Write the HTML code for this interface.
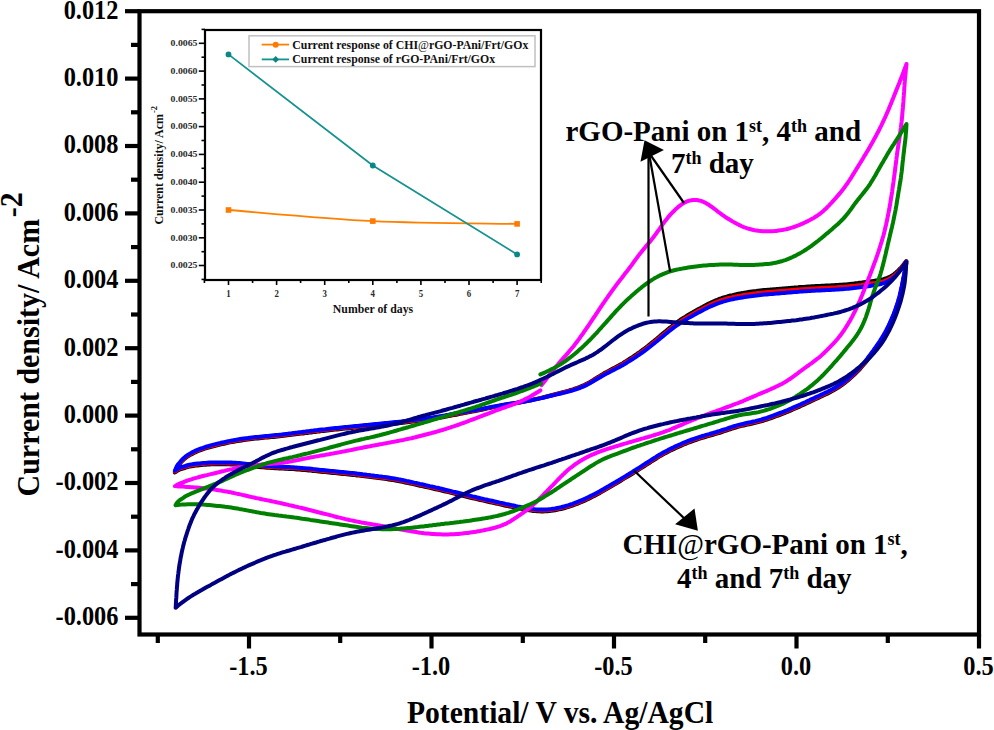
<!DOCTYPE html>
<html><head><meta charset="utf-8"><style>
html,body{margin:0;padding:0;background:#fff;}
svg{display:block;}
text{font-family:"Liberation Serif",serif;font-weight:bold;fill:#000;}
.tl{font-size:24.4px;}
.ax{font-size:29.6px;}
.axs{font-size:20px;}
.ann{font-size:29px;}
.sup{font-size:18px;}
.itl{font-size:9.8px;fill:#2a2a2a;}
.ileg{font-size:11.8px;fill:#111;}
</style></head><body>
<svg width="994" height="730" viewBox="0 0 994 730">
<rect width="994" height="730" fill="#fff"/>
<line x1="125" y1="617.8" x2="139.5" y2="617.8" stroke="#000" stroke-width="4.2"/>
<line x1="125" y1="550.4" x2="139.5" y2="550.4" stroke="#000" stroke-width="4.2"/>
<line x1="125" y1="483.0" x2="139.5" y2="483.0" stroke="#000" stroke-width="4.2"/>
<line x1="125" y1="415.6" x2="139.5" y2="415.6" stroke="#000" stroke-width="4.2"/>
<line x1="125" y1="348.2" x2="139.5" y2="348.2" stroke="#000" stroke-width="4.2"/>
<line x1="125" y1="280.8" x2="139.5" y2="280.8" stroke="#000" stroke-width="4.2"/>
<line x1="125" y1="213.4" x2="139.5" y2="213.4" stroke="#000" stroke-width="4.2"/>
<line x1="125" y1="146.0" x2="139.5" y2="146.0" stroke="#000" stroke-width="4.2"/>
<line x1="125" y1="78.6" x2="139.5" y2="78.6" stroke="#000" stroke-width="4.2"/>
<line x1="125" y1="11.2" x2="139.5" y2="11.2" stroke="#000" stroke-width="4.2"/>
<line x1="131" y1="584.1" x2="139.5" y2="584.1" stroke="#000" stroke-width="4.2"/>
<line x1="131" y1="516.7" x2="139.5" y2="516.7" stroke="#000" stroke-width="4.2"/>
<line x1="131" y1="449.3" x2="139.5" y2="449.3" stroke="#000" stroke-width="4.2"/>
<line x1="131" y1="381.9" x2="139.5" y2="381.9" stroke="#000" stroke-width="4.2"/>
<line x1="131" y1="314.5" x2="139.5" y2="314.5" stroke="#000" stroke-width="4.2"/>
<line x1="131" y1="247.1" x2="139.5" y2="247.1" stroke="#000" stroke-width="4.2"/>
<line x1="131" y1="179.7" x2="139.5" y2="179.7" stroke="#000" stroke-width="4.2"/>
<line x1="131" y1="112.3" x2="139.5" y2="112.3" stroke="#000" stroke-width="4.2"/>
<line x1="131" y1="44.9" x2="139.5" y2="44.9" stroke="#000" stroke-width="4.2"/>
<text transform="translate(118.5,625.2) scale(1,1.1)" class="tl" text-anchor="end">-0.006</text>
<text transform="translate(118.5,557.8) scale(1,1.1)" class="tl" text-anchor="end">-0.004</text>
<text transform="translate(118.5,490.4) scale(1,1.1)" class="tl" text-anchor="end">-0.002</text>
<text transform="translate(118.5,423.0) scale(1,1.1)" class="tl" text-anchor="end">0.000</text>
<text transform="translate(118.5,355.6) scale(1,1.1)" class="tl" text-anchor="end">0.002</text>
<text transform="translate(118.5,288.2) scale(1,1.1)" class="tl" text-anchor="end">0.004</text>
<text transform="translate(118.5,220.8) scale(1,1.1)" class="tl" text-anchor="end">0.006</text>
<text transform="translate(118.5,153.4) scale(1,1.1)" class="tl" text-anchor="end">0.008</text>
<text transform="translate(118.5,86.0) scale(1,1.1)" class="tl" text-anchor="end">0.010</text>
<text transform="translate(118.5,18.6) scale(1,1.1)" class="tl" text-anchor="end">0.012</text>
<line x1="157.8" y1="634.5" x2="157.8" y2="643.0" stroke="#000" stroke-width="4.2"/>
<line x1="249.0" y1="634.5" x2="249.0" y2="648.5" stroke="#000" stroke-width="4.2"/>
<text transform="translate(248.5,674.5) scale(1,1.1)" class="tl" text-anchor="middle">-1.5</text>
<line x1="340.2" y1="634.5" x2="340.2" y2="643.0" stroke="#000" stroke-width="4.2"/>
<line x1="431.5" y1="634.5" x2="431.5" y2="648.5" stroke="#000" stroke-width="4.2"/>
<text transform="translate(431.0,674.5) scale(1,1.1)" class="tl" text-anchor="middle">-1.0</text>
<line x1="522.8" y1="634.5" x2="522.8" y2="643.0" stroke="#000" stroke-width="4.2"/>
<line x1="614.0" y1="634.5" x2="614.0" y2="648.5" stroke="#000" stroke-width="4.2"/>
<text transform="translate(613.5,674.5) scale(1,1.1)" class="tl" text-anchor="middle">-0.5</text>
<line x1="705.2" y1="634.5" x2="705.2" y2="643.0" stroke="#000" stroke-width="4.2"/>
<line x1="796.5" y1="634.5" x2="796.5" y2="648.5" stroke="#000" stroke-width="4.2"/>
<text transform="translate(796.0,674.5) scale(1,1.1)" class="tl" text-anchor="middle">0.0</text>
<line x1="887.8" y1="634.5" x2="887.8" y2="643.0" stroke="#000" stroke-width="4.2"/>
<line x1="979.0" y1="634.5" x2="979.0" y2="648.5" stroke="#000" stroke-width="4.2"/>
<text transform="translate(978.5,674.5) scale(1,1.1)" class="tl" text-anchor="middle">0.5</text>
<rect x="139.5" y="11.2" width="839.5" height="623.3" fill="none" stroke="#000" stroke-width="4.2"/>
<path d="M906.3,261.1 L905.1,262.6 L903.8,264.2 L902.6,265.8 L901.3,267.3 L899.9,268.7 L898.5,270.2 L897.1,271.6 L895.6,272.9 L894.1,274.1 L892.5,275.2 L890.8,276.2 L889.1,277.0 L887.3,277.8 L885.5,278.5 L883.6,279.1 L881.7,279.5 L879.7,279.9 L877.8,280.3 L875.8,280.6 L873.8,280.9 L871.8,281.2 L869.8,281.5 L867.9,281.8 L865.9,282.0 L863.9,282.3 L861.9,282.6 L859.9,282.8 L857.9,283.1 L856.0,283.3 L854.0,283.6 L852.0,283.8 L850.0,284.0 L848.0,284.2 L846.0,284.4 L844.0,284.5 L842.0,284.7 L840.0,284.8 L838.0,285.0 L836.0,285.1 L834.0,285.2 L832.0,285.3 L830.0,285.4 L828.0,285.5 L826.0,285.6 L824.0,285.7 L822.0,285.8 L820.0,285.9 L818.0,286.0 L816.0,286.1 L814.0,286.2 L812.0,286.3 L810.0,286.5 L808.0,286.6 L806.0,286.7 L804.0,286.9 L802.1,287.0 L800.1,287.1 L798.1,287.3 L796.1,287.4 L794.1,287.6 L792.1,287.7 L790.1,287.9 L788.1,288.1 L786.1,288.2 L784.1,288.4 L782.1,288.6 L780.1,288.7 L778.1,288.9 L776.1,289.1 L774.1,289.2 L772.1,289.4 L770.1,289.6 L768.1,289.7 L766.1,289.9 L764.1,290.1 L762.2,290.3 L760.2,290.5 L758.2,290.7 L756.2,291.0 L754.2,291.2 L752.2,291.5 L750.2,291.8 L748.3,292.1 L746.3,292.4 L744.3,292.7 L742.3,293.1 L740.4,293.4 L738.4,293.8 L736.4,294.2 L734.5,294.6 L732.5,295.1 L730.6,295.5 L728.7,296.0 L726.7,296.6 L724.8,297.1 L722.9,297.7 L721.0,298.4 L719.1,299.0 L717.3,299.8 L715.4,300.5 L713.6,301.3 L711.8,302.2 L710.0,303.0 L708.2,303.9 L706.4,304.8 L704.6,305.7 L702.9,306.7 L701.1,307.6 L699.4,308.6 L697.6,309.6 L695.9,310.5 L694.1,311.5 L692.4,312.5 L690.6,313.5 L688.9,314.5 L687.2,315.5 L685.5,316.6 L683.8,317.6 L682.1,318.7 L680.4,319.8 L678.8,321.0 L677.2,322.1 L675.5,323.3 L674.0,324.5 L672.4,325.7 L670.8,327.0 L669.2,328.2 L667.7,329.5 L666.2,330.8 L664.6,332.1 L663.1,333.3 L661.6,334.6 L660.0,335.9 L658.5,337.2 L657.0,338.5 L655.4,339.8 L653.9,341.1 L652.3,342.3 L650.8,343.6 L649.2,344.9 L647.7,346.1 L646.1,347.3 L644.5,348.5 L642.9,349.7 L641.3,350.9 L639.7,352.1 L638.0,353.2 L636.4,354.4 L634.7,355.5 L633.1,356.6 L631.4,357.7 L629.7,358.8 L628.0,359.9 L626.4,361.0 L624.6,362.0 L622.9,363.1 L621.2,364.1 L619.5,365.0 L617.7,366.0 L615.9,367.0 L614.2,367.9 L612.4,368.8 L610.6,369.8 L608.9,370.7 L607.1,371.7 L605.4,372.6 L603.6,373.6 L601.9,374.6 L600.2,375.7 L598.5,376.7 L596.8,377.8 L595.1,378.8 L593.4,379.9 L591.7,380.9 L590.0,381.9 L588.2,382.9 L586.5,383.9 L584.7,384.8 L582.9,385.6 L581.1,386.4 L579.2,387.2 L577.4,387.9 L575.5,388.5 L573.6,389.2 L571.7,389.8 L569.7,390.3 L567.8,390.9 L565.9,391.4 L564.0,391.9 L562.0,392.4 L560.1,393.0 L558.2,393.5 L556.2,394.0 L554.3,394.5 L552.3,395.0 L550.4,395.5 L548.5,396.0 L546.5,396.5 L544.6,397.0 L542.6,397.5 L540.7,397.9 L538.8,398.4 L536.8,398.9 L534.9,399.3 L532.9,399.8 L531.0,400.2 L529.0,400.6 L527.0,401.0 L525.1,401.4 L523.1,401.8 L521.1,402.2 L519.2,402.5 L517.2,402.9 L515.2,403.2 L513.3,403.5 L511.3,403.8 L509.3,404.2 L507.3,404.5 L505.4,404.8 L503.4,405.2 L501.4,405.6 L499.5,405.9 L497.5,406.3 L495.5,406.7 L493.6,407.1 L491.6,407.6 L489.7,408.0 L487.7,408.4 L485.8,408.8 L483.8,409.3 L481.8,409.7 L479.9,410.1 L477.9,410.5 L476.0,410.9 L474.0,411.2 L472.0,411.6 L470.1,412.0 L468.1,412.4 L466.1,412.8 L464.2,413.1 L462.2,413.5 L460.2,413.9 L458.3,414.3 L456.3,414.7 L454.3,415.0 L452.4,415.4 L450.4,415.8 L448.4,416.1 L446.5,416.5 L444.5,416.9 L442.5,417.2 L440.6,417.6 L438.6,417.9 L436.6,418.3 L434.6,418.6 L432.7,418.9 L430.7,419.2 L428.7,419.5 L426.7,419.8 L424.7,420.1 L422.8,420.3 L420.8,420.6 L418.8,420.9 L416.8,421.1 L414.8,421.3 L412.8,421.6 L410.8,421.8 L408.9,422.1 L406.9,422.3 L404.9,422.5 L402.9,422.8 L400.9,423.0 L398.9,423.2 L396.9,423.4 L394.9,423.6 L392.9,423.9 L390.9,424.1 L389.0,424.3 L387.0,424.5 L385.0,424.7 L383.0,424.9 L381.0,425.1 L379.0,425.3 L377.0,425.5 L375.0,425.7 L373.0,425.8 L371.0,426.0 L369.0,426.2 L367.0,426.4 L365.1,426.6 L363.1,426.8 L361.1,427.0 L359.1,427.2 L357.1,427.4 L355.1,427.6 L353.1,427.8 L351.1,428.0 L349.1,428.2 L347.1,428.4 L345.1,428.6 L343.1,428.8 L341.1,429.0 L339.2,429.2 L337.2,429.4 L335.2,429.6 L333.2,429.8 L331.2,430.0 L329.2,430.2 L327.2,430.5 L325.2,430.7 L323.2,430.9 L321.2,431.1 L319.3,431.4 L317.3,431.6 L315.3,431.9 L313.3,432.1 L311.3,432.4 L309.3,432.6 L307.3,432.9 L305.4,433.1 L303.4,433.4 L301.4,433.6 L299.4,433.8 L297.4,434.1 L295.4,434.3 L293.4,434.6 L291.4,434.8 L289.5,435.1 L287.5,435.3 L285.5,435.5 L283.5,435.8 L281.5,436.0 L279.5,436.2 L277.5,436.4 L275.5,436.7 L273.5,436.9 L271.6,437.1 L269.6,437.3 L267.6,437.4 L265.6,437.6 L263.6,437.8 L261.6,438.0 L259.6,438.2 L257.6,438.4 L255.6,438.6 L253.6,438.8 L251.6,439.0 L249.7,439.3 L247.7,439.5 L245.7,439.8 L243.7,440.1 L241.7,440.4 L239.7,440.7 L237.8,441.0 L235.8,441.3 L233.8,441.7 L231.9,442.0 L229.9,442.4 L227.9,442.8 L226.0,443.2 L224.0,443.7 L222.1,444.1 L220.1,444.5 L218.2,445.0 L216.2,445.5 L214.3,446.0 L212.4,446.5 L210.4,447.0 L208.5,447.6 L206.6,448.1 L204.7,448.7 L202.8,449.4 L200.9,450.0 L199.0,450.7 L197.2,451.5 L195.4,452.3 L193.6,453.2 L191.8,454.1 L190.0,455.0 L188.3,456.1 L186.7,457.2 L185.1,458.4 L183.7,459.6 L182.3,461.0 L181.0,462.4 L179.8,464.0 L178.5,465.4 L177.3,467.0 L176.4,468.8 L175.6,470.6 L174.9,472.5 L176.5,471.3 L178.2,470.3 L180.0,469.4 L181.9,468.8 L183.8,468.3 L185.7,467.6 L187.5,467.1 L189.5,466.6 L191.4,466.2 L193.4,465.9 L195.4,465.6 L197.4,465.4 L199.3,465.2 L201.3,465.0 L203.3,464.8 L205.3,464.7 L207.3,464.5 L209.3,464.4 L211.3,464.3 L213.3,464.3 L215.3,464.2 L217.3,464.2 L219.3,464.2 L221.3,464.2 L223.3,464.2 L225.3,464.2 L227.3,464.3 L229.3,464.3 L231.3,464.4 L233.3,464.5 L235.3,464.6 L237.3,464.8 L239.3,464.9 L241.3,465.1 L243.3,465.3 L245.3,465.5 L247.3,465.7 L249.2,465.9 L251.2,466.2 L253.2,466.4 L255.2,466.6 L257.2,466.8 L259.2,467.0 L261.2,467.2 L263.2,467.3 L265.2,467.5 L267.2,467.7 L269.2,467.8 L271.2,467.9 L273.2,468.0 L275.2,468.2 L277.2,468.3 L279.2,468.4 L281.2,468.5 L283.2,468.6 L285.1,468.7 L287.1,468.8 L289.1,468.9 L291.1,469.0 L293.1,469.1 L295.1,469.2 L297.1,469.4 L299.1,469.5 L301.1,469.7 L303.1,469.9 L305.1,470.0 L307.1,470.2 L309.1,470.4 L311.1,470.6 L313.1,470.9 L315.1,471.1 L317.0,471.3 L319.0,471.5 L321.0,471.7 L323.0,471.9 L325.0,472.1 L327.0,472.3 L329.0,472.5 L331.0,472.7 L333.0,472.9 L335.0,473.1 L337.0,473.3 L339.0,473.5 L340.9,473.7 L342.9,473.9 L344.9,474.1 L346.9,474.3 L348.9,474.5 L350.9,474.7 L352.9,474.9 L354.9,475.1 L356.9,475.4 L358.8,475.6 L360.8,475.8 L362.8,476.1 L364.8,476.3 L366.8,476.6 L368.8,476.8 L370.8,477.1 L372.7,477.3 L374.7,477.6 L376.7,477.8 L378.7,478.1 L380.7,478.3 L382.7,478.6 L384.7,478.8 L386.6,479.1 L388.6,479.4 L390.6,479.7 L392.6,480.0 L394.5,480.3 L396.5,480.7 L398.5,481.1 L400.4,481.4 L402.4,481.8 L404.4,482.2 L406.3,482.7 L408.3,483.1 L410.2,483.5 L412.2,483.9 L414.1,484.4 L416.1,484.8 L418.0,485.2 L420.0,485.7 L422.0,486.1 L423.9,486.5 L425.9,487.0 L427.8,487.4 L429.8,487.9 L431.7,488.3 L433.7,488.7 L435.6,489.2 L437.6,489.6 L439.5,490.1 L441.5,490.5 L443.4,491.0 L445.4,491.5 L447.3,491.9 L449.3,492.4 L451.2,492.9 L453.1,493.4 L455.1,493.8 L457.0,494.3 L459.0,494.8 L460.9,495.3 L462.8,495.8 L464.8,496.3 L466.7,496.7 L468.7,497.2 L470.6,497.7 L472.6,498.2 L474.5,498.6 L476.5,499.1 L478.4,499.5 L480.4,500.0 L482.3,500.4 L484.3,500.9 L486.2,501.3 L488.2,501.8 L490.1,502.2 L492.1,502.6 L494.0,503.1 L496.0,503.5 L497.9,503.9 L499.9,504.4 L501.8,504.8 L503.8,505.2 L505.7,505.7 L507.7,506.1 L509.7,506.5 L511.6,506.9 L513.6,507.3 L515.5,507.8 L517.5,508.2 L519.4,508.5 L521.4,508.9 L523.4,509.3 L525.3,509.7 L527.3,510.0 L529.3,510.3 L531.3,510.6 L533.2,510.9 L535.2,511.1 L537.2,511.2 L539.2,511.3 L541.2,511.4 L543.2,511.4 L545.2,511.3 L547.2,511.2 L549.2,511.0 L551.1,510.8 L553.1,510.5 L555.1,510.2 L557.1,509.8 L559.0,509.4 L561.0,509.0 L562.9,508.5 L564.8,508.0 L566.7,507.4 L568.7,506.9 L570.6,506.2 L572.4,505.6 L574.3,504.9 L576.2,504.2 L578.1,503.5 L579.9,502.7 L581.8,501.9 L583.6,501.1 L585.4,500.3 L587.2,499.5 L589.0,498.6 L590.8,497.7 L592.6,496.8 L594.4,495.9 L596.1,495.0 L597.9,494.0 L599.7,493.1 L601.4,492.1 L603.2,491.1 L604.9,490.1 L606.6,489.1 L608.4,488.1 L610.1,487.1 L611.8,486.1 L613.5,485.1 L615.3,484.1 L617.0,483.0 L618.7,482.0 L620.4,481.0 L622.1,479.9 L623.8,478.9 L625.5,477.9 L627.3,476.8 L629.0,475.8 L630.7,474.7 L632.4,473.7 L634.1,472.6 L635.8,471.6 L637.5,470.5 L639.2,469.4 L640.8,468.4 L642.5,467.3 L644.2,466.2 L645.9,465.1 L647.6,464.0 L649.3,463.0 L650.9,461.9 L652.6,460.8 L654.3,459.7 L656.0,458.7 L657.7,457.6 L659.4,456.6 L661.2,455.6 L662.9,454.6 L664.7,453.6 L666.4,452.7 L668.2,451.7 L670.0,450.8 L671.8,449.9 L673.6,449.1 L675.4,448.2 L677.2,447.4 L679.0,446.6 L680.8,445.8 L682.7,445.0 L684.5,444.2 L686.4,443.5 L688.2,442.7 L690.1,442.0 L692.0,441.3 L693.9,440.6 L695.8,440.0 L697.6,439.4 L699.6,438.7 L701.5,438.1 L703.4,437.6 L705.3,437.0 L707.2,436.4 L709.1,435.9 L711.1,435.3 L713.0,434.8 L714.9,434.2 L716.8,433.6 L718.7,433.1 L720.6,432.5 L722.5,431.8 L724.4,431.2 L726.3,430.6 L728.2,429.9 L730.1,429.3 L732.0,428.7 L733.9,428.0 L735.8,427.5 L737.8,426.9 L739.7,426.4 L741.6,425.9 L743.6,425.5 L745.5,425.0 L747.5,424.6 L749.4,424.2 L751.4,423.8 L753.3,423.3 L755.3,422.9 L757.2,422.4 L759.1,421.9 L761.1,421.4 L763.0,420.8 L764.9,420.2 L766.8,419.6 L768.7,418.9 L770.6,418.3 L772.5,417.6 L774.3,416.9 L776.2,416.2 L778.1,415.5 L780.0,414.8 L781.8,414.1 L783.7,413.4 L785.5,412.6 L787.4,411.9 L789.2,411.1 L791.1,410.3 L792.9,409.5 L794.8,408.7 L796.6,407.9 L798.4,407.1 L800.2,406.3 L802.1,405.4 L803.9,404.6 L805.7,403.8 L807.5,402.9 L809.3,402.1 L811.1,401.2 L812.9,400.4 L814.8,399.5 L816.6,398.7 L818.4,397.9 L820.2,397.0 L822.0,396.2 L823.8,395.3 L825.6,394.4 L827.4,393.6 L829.2,392.7 L831.0,391.7 L832.8,390.8 L834.5,389.8 L836.2,388.8 L837.9,387.8 L839.6,386.7 L841.2,385.6 L842.9,384.4 L844.5,383.2 L846.0,382.0 L847.6,380.7 L849.1,379.4 L850.6,378.1 L852.1,376.8 L853.6,375.4 L855.0,374.0 L856.4,372.6 L857.9,371.2 L859.2,369.8 L860.6,368.3 L861.9,366.8 L863.2,365.3 L864.5,363.8 L865.8,362.2 L867.0,360.7 L868.2,359.1 L869.4,357.5 L870.6,355.9 L871.8,354.3 L873.0,352.7 L874.2,351.0 L875.3,349.4 L876.5,347.8 L877.6,346.1 L878.8,344.5 L879.9,342.8 L880.9,341.1 L882.0,339.4 L883.0,337.7 L884.0,336.0 L885.0,334.3 L886.0,332.5 L886.9,330.7 L887.8,328.9 L888.7,327.1 L889.5,325.3 L890.3,323.5 L891.2,321.7 L891.9,319.8 L892.7,318.0 L893.5,316.1 L894.2,314.3 L894.9,312.4 L895.6,310.5 L896.2,308.6 L896.9,306.7 L897.5,304.8 L898.1,302.9 L898.6,301.0 L899.2,299.1 L899.7,297.2 L900.1,295.2 L900.6,293.3 L901.0,291.3 L901.5,289.4 L901.9,287.4 L902.3,285.4 L902.7,283.5 L903.0,281.5 L903.4,279.5 L903.8,277.6 L904.2,275.6 L904.5,273.6 L904.9,271.7 L905.2,269.7 L905.6,267.7 L905.9,265.8 L906.3,263.8" fill="none" stroke="#000000" stroke-width="4" stroke-linejoin="round" stroke-linecap="round"/>
<path d="M906.3,261.5 L905.1,263.1 L903.9,264.8 L902.7,266.3 L901.5,267.9 L900.2,269.4 L898.9,271.0 L897.5,272.4 L896.2,273.8 L894.7,275.1 L893.2,276.3 L891.6,277.4 L889.9,278.4 L888.2,279.3 L886.4,280.1 L884.6,280.8 L882.7,281.4 L880.8,281.8 L878.8,282.3 L876.9,282.6 L874.9,283.0 L872.9,283.3 L870.9,283.6 L869.0,283.9 L867.0,284.1 L865.0,284.4 L863.0,284.7 L861.0,285.0 L859.0,285.2 L857.0,285.4 L855.1,285.7 L853.1,285.9 L851.1,286.1 L849.1,286.3 L847.1,286.5 L845.1,286.7 L843.1,286.9 L841.1,287.0 L839.1,287.1 L837.1,287.3 L835.1,287.4 L833.1,287.5 L831.1,287.6 L829.1,287.7 L827.1,287.8 L825.1,287.9 L823.1,288.0 L821.1,288.1 L819.1,288.2 L817.1,288.3 L815.1,288.4 L813.1,288.5 L811.1,288.7 L809.1,288.8 L807.1,288.9 L805.2,289.0 L803.2,289.2 L801.2,289.3 L799.2,289.5 L797.2,289.6 L795.2,289.8 L793.2,289.9 L791.2,290.1 L789.2,290.2 L787.2,290.4 L785.2,290.6 L783.2,290.7 L781.2,290.9 L779.2,291.1 L777.2,291.2 L775.2,291.4 L773.2,291.6 L771.2,291.7 L769.2,291.9 L767.2,292.1 L765.3,292.3 L763.3,292.5 L761.3,292.7 L759.3,292.9 L757.3,293.1 L755.3,293.4 L753.3,293.6 L751.3,293.9 L749.4,294.2 L747.4,294.5 L745.4,294.8 L743.4,295.1 L741.5,295.4 L739.5,295.8 L737.5,296.1 L735.6,296.5 L733.6,296.9 L731.6,297.4 L729.7,297.8 L727.8,298.3 L725.8,298.8 L723.9,299.4 L722.0,300.0 L720.1,300.6 L718.3,301.3 L716.4,302.0 L714.5,302.8 L712.7,303.6 L710.9,304.4 L709.1,305.3 L707.3,306.2 L705.5,307.1 L703.7,308.0 L702.0,308.9 L700.2,309.9 L698.4,310.8 L696.7,311.8 L694.9,312.8 L693.2,313.7 L691.4,314.7 L689.7,315.7 L688.0,316.7 L686.3,317.7 L684.5,318.8 L682.8,319.8 L681.2,320.9 L679.5,322.0 L677.9,323.1 L676.2,324.3 L674.6,325.5 L673.0,326.7 L671.4,327.9 L669.9,329.2 L668.3,330.4 L666.8,331.7 L665.2,333.0 L663.7,334.2 L662.1,335.5 L660.6,336.8 L659.1,338.1 L657.5,339.4 L656.0,340.6 L654.4,341.9 L652.9,343.2 L651.3,344.4 L649.8,345.7 L648.2,346.9 L646.6,348.1 L645.0,349.3 L643.4,350.5 L641.8,351.7 L640.2,352.9 L638.5,354.0 L636.9,355.1 L635.2,356.3 L633.6,357.4 L631.9,358.5 L630.2,359.6 L628.5,360.6 L626.8,361.7 L625.1,362.8 L623.4,363.8 L621.7,364.8 L619.9,365.7 L618.2,366.7 L616.4,367.6 L614.6,368.6 L612.8,369.5 L611.1,370.4 L609.3,371.3 L607.5,372.3 L605.8,373.2 L604.0,374.2 L602.3,375.2 L600.6,376.2 L598.9,377.2 L597.2,378.3 L595.5,379.3 L593.8,380.4 L592.0,381.4 L590.3,382.4 L588.6,383.4 L586.8,384.3 L585.0,385.2 L583.2,386.0 L581.4,386.8 L579.5,387.6 L577.7,388.3 L575.8,388.9 L573.9,389.6 L572.0,390.1 L570.1,390.7 L568.1,391.2 L566.2,391.7 L564.3,392.2 L562.3,392.7 L560.4,393.2 L558.4,393.7 L556.5,394.2 L554.5,394.7 L552.6,395.2 L550.7,395.7 L548.7,396.1 L546.8,396.6 L544.8,397.1 L542.9,397.6 L540.9,398.0 L539.0,398.5 L537.0,399.0 L535.1,399.4 L533.1,399.8 L531.2,400.2 L529.2,400.6 L527.3,401.0 L525.3,401.4 L523.3,401.7 L521.4,402.1 L519.4,402.4 L517.4,402.7 L515.4,403.1 L513.5,403.4 L511.5,403.7 L509.5,404.0 L507.5,404.3 L505.5,404.6 L503.6,404.9 L501.6,405.3 L499.6,405.6 L497.7,406.0 L495.7,406.4 L493.7,406.8 L491.8,407.2 L489.8,407.6 L487.9,408.0 L485.9,408.4 L483.9,408.8 L482.0,409.2 L480.0,409.6 L478.1,410.0 L476.1,410.3 L474.1,410.7 L472.1,411.1 L470.2,411.4 L468.2,411.8 L466.2,412.2 L464.3,412.5 L462.3,412.9 L460.3,413.2 L458.4,413.6 L456.4,414.0 L454.4,414.3 L452.5,414.7 L450.5,415.1 L448.5,415.4 L446.6,415.8 L444.6,416.1 L442.6,416.5 L440.7,416.8 L438.7,417.2 L436.7,417.5 L434.7,417.8 L432.8,418.1 L430.8,418.4 L428.8,418.7 L426.8,419.0 L424.8,419.3 L422.8,419.6 L420.9,419.8 L418.9,420.1 L416.9,420.3 L414.9,420.6 L412.9,420.8 L410.9,421.1 L408.9,421.3 L407.0,421.5 L405.0,421.8 L403.0,422.0 L401.0,422.2 L399.0,422.4 L397.0,422.7 L395.0,422.9 L393.0,423.1 L391.0,423.3 L389.1,423.5 L387.1,423.7 L385.1,423.9 L383.1,424.1 L381.1,424.3 L379.1,424.5 L377.1,424.7 L375.1,424.9 L373.1,425.1 L371.1,425.3 L369.1,425.5 L367.1,425.7 L365.2,425.9 L363.2,426.1 L361.2,426.3 L359.2,426.5 L357.2,426.7 L355.2,426.9 L353.2,427.1 L351.2,427.2 L349.2,427.4 L347.2,427.6 L345.2,427.8 L343.2,428.0 L341.3,428.2 L339.3,428.4 L337.3,428.6 L335.3,428.8 L333.3,429.1 L331.3,429.3 L329.3,429.5 L327.3,429.7 L325.3,429.9 L323.3,430.1 L321.4,430.4 L319.4,430.6 L317.4,430.9 L315.4,431.1 L313.4,431.3 L311.4,431.6 L309.4,431.8 L307.5,432.1 L305.5,432.3 L303.5,432.6 L301.5,432.8 L299.5,433.1 L297.5,433.3 L295.5,433.6 L293.5,433.8 L291.6,434.0 L289.6,434.3 L287.6,434.5 L285.6,434.8 L283.6,435.0 L281.6,435.2 L279.6,435.5 L277.6,435.7 L275.7,435.9 L273.7,436.1 L271.7,436.3 L269.7,436.5 L267.7,436.7 L265.7,436.9 L263.7,437.1 L261.7,437.2 L259.7,437.4 L257.7,437.6 L255.7,437.8 L253.8,438.0 L251.8,438.3 L249.8,438.5 L247.8,438.7 L245.8,439.0 L243.8,439.3 L241.8,439.6 L239.9,439.9 L237.9,440.2 L235.9,440.6 L234.0,440.9 L232.0,441.3 L230.0,441.7 L228.1,442.1 L226.1,442.5 L224.1,442.9 L222.2,443.3 L220.2,443.8 L218.3,444.2 L216.4,444.7 L214.4,445.2 L212.5,445.7 L210.5,446.2 L208.6,446.8 L206.7,447.3 L204.8,447.9 L202.9,448.6 L201.0,449.2 L199.2,449.9 L197.3,450.7 L195.5,451.5 L193.7,452.4 L191.9,453.3 L190.2,454.2 L188.5,455.2 L186.8,456.3 L185.2,457.5 L183.7,458.8 L182.4,460.1 L181.0,461.6 L179.8,463.1 L178.5,464.5 L177.4,466.1 L176.4,467.9 L175.6,469.7 L174.9,471.6 L176.5,470.4 L178.2,469.4 L180.0,468.5 L181.9,467.9 L183.8,467.4 L185.7,466.7 L187.5,466.2 L189.5,465.7 L191.4,465.3 L193.4,465.0 L195.4,464.7 L197.4,464.5 L199.3,464.3 L201.3,464.1 L203.3,463.9 L205.3,463.8 L207.3,463.6 L209.3,463.5 L211.3,463.4 L213.3,463.4 L215.3,463.3 L217.3,463.3 L219.3,463.3 L221.3,463.3 L223.3,463.3 L225.3,463.3 L227.3,463.4 L229.3,463.4 L231.3,463.5 L233.3,463.6 L235.3,463.7 L237.3,463.9 L239.3,464.0 L241.3,464.2 L243.3,464.4 L245.3,464.6 L247.3,464.8 L249.2,465.0 L251.2,465.3 L253.2,465.5 L255.2,465.7 L257.2,465.9 L259.2,466.1 L261.2,466.3 L263.2,466.4 L265.2,466.6 L267.2,466.8 L269.2,466.9 L271.2,467.0 L273.2,467.1 L275.2,467.3 L277.2,467.4 L279.2,467.5 L281.2,467.6 L283.2,467.7 L285.1,467.8 L287.1,467.9 L289.1,468.0 L291.1,468.1 L293.1,468.2 L295.1,468.3 L297.1,468.5 L299.1,468.6 L301.1,468.8 L303.1,469.0 L305.1,469.1 L307.1,469.3 L309.1,469.5 L311.1,469.7 L313.1,470.0 L315.1,470.2 L317.0,470.4 L319.0,470.6 L321.0,470.8 L323.0,471.0 L325.0,471.2 L327.0,471.4 L329.0,471.6 L331.0,471.8 L333.0,472.0 L335.0,472.2 L337.0,472.4 L339.0,472.6 L340.9,472.8 L342.9,473.0 L344.9,473.2 L346.9,473.4 L348.9,473.6 L350.9,473.8 L352.9,474.0 L354.9,474.2 L356.9,474.5 L358.8,474.7 L360.8,474.9 L362.8,475.2 L364.8,475.4 L366.8,475.7 L368.8,475.9 L370.8,476.2 L372.7,476.4 L374.7,476.7 L376.7,476.9 L378.7,477.2 L380.7,477.4 L382.7,477.7 L384.7,477.9 L386.6,478.2 L388.6,478.5 L390.6,478.8 L392.6,479.1 L394.5,479.4 L396.5,479.8 L398.5,480.2 L400.4,480.5 L402.4,480.9 L404.4,481.3 L406.3,481.8 L408.3,482.2 L410.2,482.6 L412.2,483.0 L414.1,483.5 L416.1,483.9 L418.0,484.3 L420.0,484.8 L422.0,485.2 L423.9,485.6 L425.9,486.1 L427.8,486.5 L429.8,487.0 L431.7,487.4 L433.7,487.8 L435.6,488.3 L437.6,488.7 L439.5,489.2 L441.5,489.6 L443.4,490.1 L445.4,490.6 L447.3,491.0 L449.3,491.5 L451.2,492.0 L453.1,492.5 L455.1,492.9 L457.0,493.4 L459.0,493.9 L460.9,494.4 L462.8,494.9 L464.8,495.4 L466.7,495.8 L468.7,496.3 L470.6,496.8 L472.6,497.3 L474.5,497.7 L476.5,498.2 L478.4,498.6 L480.4,499.1 L482.3,499.5 L484.3,500.0 L486.2,500.4 L488.2,500.9 L490.1,501.3 L492.1,501.7 L494.0,502.2 L496.0,502.6 L497.9,503.0 L499.9,503.5 L501.8,503.9 L503.8,504.3 L505.7,504.8 L507.7,505.2 L509.7,505.6 L511.6,506.0 L513.6,506.4 L515.5,506.9 L517.5,507.3 L519.4,507.6 L521.4,508.0 L523.4,508.4 L525.3,508.8 L527.3,509.1 L529.3,509.4 L531.3,509.7 L533.2,510.0 L535.2,510.2 L537.2,510.3 L539.2,510.4 L541.2,510.5 L543.2,510.5 L545.2,510.4 L547.2,510.3 L549.2,510.1 L551.1,509.9 L553.1,509.6 L555.1,509.3 L557.1,508.9 L559.0,508.5 L561.0,508.1 L562.9,507.6 L564.8,507.1 L566.7,506.5 L568.7,506.0 L570.6,505.3 L572.4,504.7 L574.3,504.0 L576.2,503.3 L578.1,502.6 L579.9,501.8 L581.8,501.0 L583.6,500.2 L585.4,499.4 L587.2,498.6 L589.0,497.7 L590.8,496.8 L592.6,495.9 L594.4,495.0 L596.1,494.1 L597.9,493.1 L599.7,492.2 L601.4,491.2 L603.2,490.2 L604.9,489.2 L606.6,488.2 L608.4,487.2 L610.1,486.2 L611.8,485.2 L613.5,484.2 L615.3,483.2 L617.0,482.1 L618.7,481.1 L620.4,480.1 L622.1,479.0 L623.8,478.0 L625.5,477.0 L627.3,475.9 L629.0,474.9 L630.7,473.8 L632.4,472.8 L634.1,471.7 L635.8,470.7 L637.5,469.6 L639.2,468.5 L640.8,467.5 L642.5,466.4 L644.2,465.3 L645.9,464.2 L647.6,463.1 L649.3,462.1 L650.9,461.0 L652.6,459.9 L654.3,458.8 L656.0,457.8 L657.7,456.7 L659.4,455.7 L661.2,454.7 L662.9,453.7 L664.7,452.7 L666.4,451.8 L668.2,450.8 L670.0,449.9 L671.8,449.0 L673.6,448.2 L675.4,447.3 L677.2,446.5 L679.0,445.7 L680.8,444.9 L682.7,444.1 L684.5,443.3 L686.4,442.6 L688.2,441.8 L690.1,441.1 L692.0,440.4 L693.9,439.7 L695.8,439.1 L697.6,438.5 L699.6,437.8 L701.5,437.2 L703.4,436.7 L705.3,436.1 L707.2,435.5 L709.1,435.0 L711.1,434.4 L713.0,433.9 L714.9,433.3 L716.8,432.7 L718.7,432.2 L720.6,431.6 L722.5,430.9 L724.4,430.3 L726.3,429.7 L728.2,429.0 L730.1,428.4 L732.0,427.8 L733.9,427.1 L735.8,426.6 L737.8,426.0 L739.7,425.5 L741.6,425.0 L743.6,424.6 L745.5,424.1 L747.5,423.7 L749.4,423.3 L751.4,422.9 L753.3,422.4 L755.3,422.0 L757.2,421.5 L759.1,421.0 L761.1,420.5 L763.0,419.9 L764.9,419.3 L766.8,418.7 L768.7,418.0 L770.6,417.4 L772.5,416.7 L774.3,416.0 L776.2,415.3 L778.1,414.6 L780.0,413.9 L781.8,413.2 L783.7,412.5 L785.5,411.7 L787.4,411.0 L789.2,410.2 L791.1,409.4 L792.9,408.6 L794.8,407.8 L796.6,407.0 L798.4,406.2 L800.2,405.4 L802.1,404.5 L803.9,403.7 L805.7,402.9 L807.5,402.0 L809.3,401.2 L811.1,400.3 L812.9,399.5 L814.8,398.6 L816.6,397.8 L818.4,397.0 L820.2,396.1 L822.0,395.3 L823.8,394.4 L825.6,393.5 L827.4,392.7 L829.2,391.8 L831.0,390.8 L832.8,389.9 L834.5,388.9 L836.2,387.9 L837.9,386.9 L839.6,385.8 L841.2,384.7 L842.9,383.5 L844.5,382.3 L846.0,381.1 L847.6,379.8 L849.1,378.5 L850.6,377.2 L852.1,375.9 L853.6,374.5 L855.0,373.1 L856.4,371.7 L857.9,370.3 L859.2,368.9 L860.6,367.4 L861.9,365.9 L863.2,364.4 L864.5,362.9 L865.8,361.3 L867.0,359.8 L868.2,358.2 L869.4,356.6 L870.6,355.0 L871.8,353.4 L873.0,351.8 L874.2,350.1 L875.3,348.5 L876.5,346.9 L877.6,345.2 L878.8,343.6 L879.9,341.9 L880.9,340.2 L882.0,338.5 L883.0,336.8 L884.0,335.1 L885.0,333.4 L886.0,331.6 L886.9,329.8 L887.8,328.0 L888.7,326.2 L889.5,324.4 L890.3,322.6 L891.2,320.8 L891.9,318.9 L892.7,317.1 L893.5,315.2 L894.2,313.4 L894.9,311.5 L895.6,309.6 L896.2,307.7 L896.9,305.8 L897.5,303.9 L898.1,302.0 L898.6,300.1 L899.2,298.2 L899.7,296.3 L900.1,294.3 L900.6,292.4 L901.0,290.4 L901.5,288.5 L901.9,286.5 L902.3,284.5 L902.7,282.6 L903.0,280.6 L903.4,278.6 L903.8,276.7 L904.2,274.7 L904.5,272.7 L904.9,270.8 L905.2,268.8 L905.6,266.8 L905.9,264.9 L906.3,262.9" fill="none" stroke="#ff0000" stroke-width="4" stroke-linejoin="round" stroke-linecap="round"/>
<path d="M906.3,262.0 L905.2,263.6 L904.0,265.3 L902.9,266.9 L901.7,268.5 L900.4,270.1 L899.2,271.7 L898.0,273.2 L896.6,274.7 L895.3,276.1 L893.8,277.4 L892.3,278.6 L890.7,279.8 L889.0,280.8 L887.3,281.6 L885.6,282.4 L883.7,283.1 L881.8,283.7 L879.9,284.2 L878.0,284.6 L876.0,285.0 L874.0,285.3 L872.1,285.6 L870.1,285.9 L868.1,286.2 L866.1,286.5 L864.1,286.8 L862.1,287.1 L860.2,287.3 L858.2,287.6 L856.2,287.8 L854.2,288.0 L852.2,288.3 L850.2,288.5 L848.2,288.7 L846.2,288.8 L844.2,289.0 L842.3,289.2 L840.3,289.3 L838.3,289.5 L836.3,289.6 L834.3,289.7 L832.3,289.8 L830.3,289.9 L828.3,290.0 L826.3,290.1 L824.3,290.2 L822.3,290.3 L820.3,290.4 L818.3,290.5 L816.3,290.6 L814.3,290.7 L812.3,290.8 L810.3,291.0 L808.3,291.1 L806.3,291.2 L804.3,291.3 L802.3,291.5 L800.3,291.6 L798.3,291.8 L796.3,291.9 L794.3,292.1 L792.3,292.2 L790.3,292.4 L788.3,292.5 L786.3,292.7 L784.3,292.9 L782.3,293.0 L780.4,293.2 L778.4,293.4 L776.4,293.5 L774.4,293.7 L772.4,293.9 L770.4,294.1 L768.4,294.2 L766.4,294.4 L764.4,294.6 L762.4,294.8 L760.4,295.0 L758.4,295.2 L756.4,295.5 L754.5,295.7 L752.5,296.0 L750.5,296.2 L748.5,296.5 L746.5,296.8 L744.6,297.1 L742.6,297.4 L740.6,297.7 L738.6,298.1 L736.7,298.4 L734.7,298.8 L732.7,299.2 L730.8,299.6 L728.8,300.1 L726.9,300.6 L725.0,301.1 L723.1,301.6 L721.2,302.3 L719.3,302.9 L717.4,303.6 L715.5,304.3 L713.7,305.1 L711.9,305.9 L710.0,306.7 L708.2,307.5 L706.4,308.4 L704.6,309.3 L702.9,310.2 L701.1,311.2 L699.3,312.1 L697.6,313.0 L695.8,314.0 L694.0,315.0 L692.3,315.9 L690.5,316.9 L688.8,317.9 L687.1,318.9 L685.3,319.9 L683.6,320.9 L681.9,322.0 L680.3,323.1 L678.6,324.2 L676.9,325.3 L675.3,326.5 L673.7,327.7 L672.1,328.9 L670.5,330.1 L669.0,331.3 L667.4,332.6 L665.9,333.8 L664.3,335.1 L662.8,336.4 L661.2,337.6 L659.7,338.9 L658.1,340.2 L656.6,341.5 L655.0,342.7 L653.5,344.0 L651.9,345.2 L650.3,346.5 L648.8,347.7 L647.2,348.9 L645.6,350.1 L644.0,351.3 L642.3,352.5 L640.7,353.6 L639.1,354.8 L637.4,355.9 L635.8,357.0 L634.1,358.1 L632.4,359.2 L630.7,360.3 L629.0,361.4 L627.3,362.4 L625.6,363.5 L623.9,364.5 L622.2,365.5 L620.4,366.4 L618.6,367.4 L616.9,368.3 L615.1,369.2 L613.3,370.1 L611.5,371.0 L609.8,371.9 L608.0,372.9 L606.2,373.8 L604.5,374.7 L602.7,375.7 L601.0,376.7 L599.3,377.7 L597.5,378.8 L595.8,379.8 L594.1,380.8 L592.4,381.9 L590.7,382.9 L588.9,383.8 L587.2,384.7 L585.4,385.6 L583.6,386.5 L581.7,387.2 L579.9,388.0 L578.0,388.7 L576.1,389.3 L574.2,389.9 L572.3,390.5 L570.4,391.1 L568.4,391.6 L566.5,392.1 L564.6,392.6 L562.6,393.0 L560.7,393.5 L558.7,394.0 L556.8,394.4 L554.8,394.9 L552.9,395.4 L551.0,395.8 L549.0,396.3 L547.1,396.8 L545.1,397.2 L543.2,397.7 L541.2,398.1 L539.3,398.6 L537.3,399.0 L535.4,399.4 L533.4,399.8 L531.4,400.2 L529.5,400.6 L527.5,401.0 L525.5,401.3 L523.6,401.7 L521.6,402.0 L519.6,402.3 L517.6,402.6 L515.7,402.9 L513.7,403.2 L511.7,403.5 L509.7,403.8 L507.7,404.1 L505.8,404.4 L503.8,404.7 L501.8,405.0 L499.8,405.4 L497.9,405.7 L495.9,406.1 L493.9,406.5 L492.0,406.8 L490.0,407.2 L488.0,407.6 L486.1,408.0 L484.1,408.4 L482.1,408.7 L480.2,409.1 L478.2,409.5 L476.2,409.8 L474.3,410.2 L472.3,410.5 L470.3,410.8 L468.4,411.2 L466.4,411.5 L464.4,411.9 L462.4,412.2 L460.5,412.6 L458.5,412.9 L456.5,413.3 L454.6,413.6 L452.6,414.0 L450.6,414.3 L448.7,414.7 L446.7,415.0 L444.7,415.4 L442.7,415.7 L440.8,416.1 L438.8,416.4 L436.8,416.7 L434.8,417.1 L432.9,417.4 L430.9,417.7 L428.9,418.0 L426.9,418.3 L425.0,418.5 L423.0,418.8 L421.0,419.1 L419.0,419.3 L417.0,419.6 L415.0,419.8 L413.0,420.1 L411.1,420.3 L409.1,420.5 L407.1,420.8 L405.1,421.0 L403.1,421.2 L401.1,421.5 L399.1,421.7 L397.1,421.9 L395.1,422.1 L393.2,422.3 L391.2,422.5 L389.2,422.7 L387.2,422.9 L385.2,423.1 L383.2,423.3 L381.2,423.5 L379.2,423.7 L377.2,423.9 L375.2,424.1 L373.2,424.3 L371.3,424.5 L369.3,424.7 L367.3,424.9 L365.3,425.1 L363.3,425.3 L361.3,425.5 L359.3,425.7 L357.3,425.9 L355.3,426.1 L353.3,426.3 L351.3,426.5 L349.3,426.7 L347.4,426.9 L345.4,427.1 L343.4,427.3 L341.4,427.5 L339.4,427.7 L337.4,427.9 L335.4,428.1 L333.4,428.3 L331.4,428.5 L329.4,428.7 L327.4,428.9 L325.5,429.2 L323.5,429.4 L321.5,429.6 L319.5,429.8 L317.5,430.1 L315.5,430.3 L313.5,430.6 L311.6,430.8 L309.6,431.1 L307.6,431.3 L305.6,431.6 L303.6,431.8 L301.6,432.1 L299.6,432.3 L297.6,432.6 L295.7,432.8 L293.7,433.0 L291.7,433.3 L289.7,433.5 L287.7,433.8 L285.7,434.0 L283.7,434.2 L281.8,434.5 L279.8,434.7 L277.8,434.9 L275.8,435.1 L273.8,435.3 L271.8,435.5 L269.8,435.7 L267.8,435.9 L265.8,436.1 L263.8,436.3 L261.8,436.5 L259.9,436.7 L257.9,436.9 L255.9,437.1 L253.9,437.3 L251.9,437.5 L249.9,437.7 L247.9,438.0 L245.9,438.2 L244.0,438.5 L242.0,438.8 L240.0,439.1 L238.0,439.4 L236.1,439.8 L234.1,440.1 L232.1,440.5 L230.2,440.9 L228.2,441.3 L226.2,441.7 L224.3,442.1 L222.3,442.5 L220.4,443.0 L218.4,443.4 L216.5,443.9 L214.5,444.4 L212.6,444.9 L210.7,445.4 L208.8,446.0 L206.8,446.5 L204.9,447.1 L203.0,447.8 L201.1,448.4 L199.3,449.1 L197.4,449.9 L195.6,450.7 L193.8,451.5 L192.0,452.4 L190.3,453.4 L188.6,454.4 L186.9,455.5 L185.3,456.7 L183.8,458.0 L182.4,459.3 L181.1,460.7 L179.9,462.2 L178.6,463.7 L177.4,465.3 L176.5,467.0 L175.7,468.8 L174.9,470.7 L176.5,469.5 L178.2,468.5 L180.0,467.6 L181.9,467.0 L183.8,466.5 L185.7,465.8 L187.5,465.3 L189.5,464.8 L191.4,464.4 L193.4,464.1 L195.4,463.8 L197.4,463.6 L199.3,463.4 L201.3,463.2 L203.3,463.0 L205.3,462.9 L207.3,462.7 L209.3,462.6 L211.3,462.5 L213.3,462.5 L215.3,462.4 L217.3,462.4 L219.3,462.4 L221.3,462.4 L223.3,462.4 L225.3,462.4 L227.3,462.5 L229.3,462.5 L231.3,462.6 L233.3,462.7 L235.3,462.8 L237.3,463.0 L239.3,463.1 L241.3,463.3 L243.3,463.5 L245.3,463.7 L247.3,463.9 L249.2,464.1 L251.2,464.4 L253.2,464.6 L255.2,464.8 L257.2,465.0 L259.2,465.2 L261.2,465.4 L263.2,465.5 L265.2,465.7 L267.2,465.9 L269.2,466.0 L271.2,466.1 L273.2,466.2 L275.2,466.4 L277.2,466.5 L279.2,466.6 L281.2,466.7 L283.2,466.8 L285.1,466.9 L287.1,467.0 L289.1,467.1 L291.1,467.2 L293.1,467.3 L295.1,467.4 L297.1,467.6 L299.1,467.7 L301.1,467.9 L303.1,468.1 L305.1,468.2 L307.1,468.4 L309.1,468.6 L311.1,468.8 L313.1,469.1 L315.1,469.3 L317.0,469.5 L319.0,469.7 L321.0,469.9 L323.0,470.1 L325.0,470.3 L327.0,470.5 L329.0,470.7 L331.0,470.9 L333.0,471.1 L335.0,471.3 L337.0,471.5 L339.0,471.7 L340.9,471.9 L342.9,472.1 L344.9,472.3 L346.9,472.5 L348.9,472.7 L350.9,472.9 L352.9,473.1 L354.9,473.3 L356.9,473.6 L358.8,473.8 L360.8,474.0 L362.8,474.3 L364.8,474.5 L366.8,474.8 L368.8,475.0 L370.8,475.3 L372.7,475.5 L374.7,475.8 L376.7,476.0 L378.7,476.3 L380.7,476.5 L382.7,476.8 L384.7,477.0 L386.6,477.3 L388.6,477.6 L390.6,477.9 L392.6,478.2 L394.5,478.5 L396.5,478.9 L398.5,479.3 L400.4,479.6 L402.4,480.0 L404.4,480.4 L406.3,480.9 L408.3,481.3 L410.2,481.7 L412.2,482.1 L414.1,482.6 L416.1,483.0 L418.0,483.4 L420.0,483.9 L422.0,484.3 L423.9,484.7 L425.9,485.2 L427.8,485.6 L429.8,486.1 L431.7,486.5 L433.7,486.9 L435.6,487.4 L437.6,487.8 L439.5,488.3 L441.5,488.7 L443.4,489.2 L445.4,489.7 L447.3,490.1 L449.3,490.6 L451.2,491.1 L453.1,491.6 L455.1,492.0 L457.0,492.5 L459.0,493.0 L460.9,493.5 L462.8,494.0 L464.8,494.5 L466.7,494.9 L468.7,495.4 L470.6,495.9 L472.6,496.4 L474.5,496.8 L476.5,497.3 L478.4,497.7 L480.4,498.2 L482.3,498.6 L484.3,499.1 L486.2,499.5 L488.2,500.0 L490.1,500.4 L492.1,500.8 L494.0,501.3 L496.0,501.7 L497.9,502.1 L499.9,502.6 L501.8,503.0 L503.8,503.4 L505.7,503.9 L507.7,504.3 L509.7,504.7 L511.6,505.1 L513.6,505.5 L515.5,506.0 L517.5,506.4 L519.4,506.7 L521.4,507.1 L523.4,507.5 L525.3,507.9 L527.3,508.2 L529.3,508.5 L531.3,508.8 L533.2,509.1 L535.2,509.3 L537.2,509.4 L539.2,509.5 L541.2,509.6 L543.2,509.6 L545.2,509.5 L547.2,509.4 L549.2,509.2 L551.1,509.0 L553.1,508.7 L555.1,508.4 L557.1,508.0 L559.0,507.6 L561.0,507.2 L562.9,506.7 L564.8,506.2 L566.7,505.6 L568.7,505.1 L570.6,504.4 L572.4,503.8 L574.3,503.1 L576.2,502.4 L578.1,501.7 L579.9,500.9 L581.8,500.1 L583.6,499.3 L585.4,498.5 L587.2,497.7 L589.0,496.8 L590.8,495.9 L592.6,495.0 L594.4,494.1 L596.1,493.2 L597.9,492.2 L599.7,491.3 L601.4,490.3 L603.2,489.3 L604.9,488.3 L606.6,487.3 L608.4,486.3 L610.1,485.3 L611.8,484.3 L613.5,483.3 L615.3,482.3 L617.0,481.2 L618.7,480.2 L620.4,479.2 L622.1,478.1 L623.8,477.1 L625.5,476.1 L627.3,475.0 L629.0,474.0 L630.7,472.9 L632.4,471.9 L634.1,470.8 L635.8,469.8 L637.5,468.7 L639.2,467.6 L640.8,466.6 L642.5,465.5 L644.2,464.4 L645.9,463.3 L647.6,462.2 L649.3,461.2 L650.9,460.1 L652.6,459.0 L654.3,457.9 L656.0,456.9 L657.7,455.8 L659.4,454.8 L661.2,453.8 L662.9,452.8 L664.7,451.8 L666.4,450.9 L668.2,449.9 L670.0,449.0 L671.8,448.1 L673.6,447.3 L675.4,446.4 L677.2,445.6 L679.0,444.8 L680.8,444.0 L682.7,443.2 L684.5,442.4 L686.4,441.7 L688.2,440.9 L690.1,440.2 L692.0,439.5 L693.9,438.8 L695.8,438.2 L697.6,437.6 L699.6,436.9 L701.5,436.3 L703.4,435.8 L705.3,435.2 L707.2,434.6 L709.1,434.1 L711.1,433.5 L713.0,433.0 L714.9,432.4 L716.8,431.8 L718.7,431.3 L720.6,430.7 L722.5,430.0 L724.4,429.4 L726.3,428.8 L728.2,428.1 L730.1,427.5 L732.0,426.9 L733.9,426.2 L735.8,425.7 L737.8,425.1 L739.7,424.6 L741.6,424.1 L743.6,423.7 L745.5,423.2 L747.5,422.8 L749.4,422.4 L751.4,422.0 L753.3,421.5 L755.3,421.1 L757.2,420.6 L759.1,420.1 L761.1,419.6 L763.0,419.0 L764.9,418.4 L766.8,417.8 L768.7,417.1 L770.6,416.5 L772.5,415.8 L774.3,415.1 L776.2,414.4 L778.1,413.7 L780.0,413.0 L781.8,412.3 L783.7,411.6 L785.5,410.8 L787.4,410.1 L789.2,409.3 L791.1,408.5 L792.9,407.7 L794.8,406.9 L796.6,406.1 L798.4,405.3 L800.2,404.5 L802.1,403.6 L803.9,402.8 L805.7,402.0 L807.5,401.1 L809.3,400.3 L811.1,399.4 L812.9,398.6 L814.8,397.7 L816.6,396.9 L818.4,396.1 L820.2,395.2 L822.0,394.4 L823.8,393.5 L825.6,392.6 L827.4,391.8 L829.2,390.9 L831.0,389.9 L832.8,389.0 L834.5,388.0 L836.2,387.0 L837.9,386.0 L839.6,384.9 L841.2,383.8 L842.9,382.6 L844.5,381.4 L846.0,380.2 L847.6,378.9 L849.1,377.6 L850.6,376.3 L852.1,375.0 L853.6,373.6 L855.0,372.2 L856.4,370.8 L857.9,369.4 L859.2,368.0 L860.6,366.5 L861.9,365.0 L863.2,363.5 L864.5,362.0 L865.8,360.4 L867.0,358.9 L868.2,357.3 L869.4,355.7 L870.6,354.1 L871.8,352.5 L873.0,350.9 L874.2,349.2 L875.3,347.6 L876.5,346.0 L877.6,344.3 L878.8,342.7 L879.9,341.0 L880.9,339.3 L882.0,337.6 L883.0,335.9 L884.0,334.2 L885.0,332.5 L886.0,330.7 L886.9,328.9 L887.8,327.1 L888.7,325.3 L889.5,323.5 L890.3,321.7 L891.2,319.9 L891.9,318.0 L892.7,316.2 L893.5,314.3 L894.2,312.5 L894.9,310.6 L895.6,308.7 L896.2,306.8 L896.9,304.9 L897.5,303.0 L898.1,301.1 L898.6,299.2 L899.2,297.3 L899.7,295.4 L900.1,293.4 L900.6,291.5 L901.0,289.5 L901.5,287.6 L901.9,285.6 L902.3,283.6 L902.7,281.7 L903.0,279.7 L903.4,277.7 L903.8,275.8 L904.2,273.8 L904.5,271.8 L904.9,269.9 L905.2,267.9 L905.6,265.9 L905.9,264.0 L906.3,262.0" fill="none" stroke="#0000ff" stroke-width="4" stroke-linejoin="round" stroke-linecap="round"/>
<path d="M541.6,385.1 L542.8,383.5 L544.1,381.9 L545.3,380.4 L546.5,378.8 L547.7,377.2 L549.0,375.6 L550.2,374.0 L551.5,372.5 L552.7,370.9 L553.9,369.3 L555.2,367.8 L556.4,366.2 L557.7,364.7 L559.0,363.1 L560.3,361.6 L561.6,360.1 L562.9,358.6 L564.2,357.1 L565.6,355.6 L566.9,354.1 L568.2,352.6 L569.5,351.1 L570.8,349.5 L572.1,348.0 L573.4,346.5 L574.6,344.9 L575.8,343.3 L577.0,341.7 L578.2,340.1 L579.4,338.5 L580.5,336.8 L581.7,335.2 L582.9,333.6 L584.0,331.9 L585.2,330.3 L586.3,328.6 L587.4,327.0 L588.6,325.3 L589.7,323.7 L590.8,322.0 L591.9,320.4 L593.0,318.7 L594.2,317.0 L595.3,315.4 L596.4,313.7 L597.5,312.0 L598.6,310.4 L599.7,308.7 L600.8,307.0 L601.9,305.4 L603.0,303.7 L604.2,302.1 L605.3,300.4 L606.4,298.8 L607.6,297.1 L608.7,295.5 L609.9,293.8 L611.1,292.2 L612.2,290.6 L613.4,289.0 L614.6,287.4 L615.8,285.7 L617.0,284.1 L618.2,282.6 L619.4,281.0 L620.6,279.4 L621.9,277.8 L623.1,276.2 L624.3,274.6 L625.5,273.1 L626.8,271.5 L628.0,269.9 L629.2,268.3 L630.4,266.7 L631.6,265.1 L632.8,263.5 L633.9,261.8 L635.1,260.2 L636.3,258.6 L637.5,257.0 L638.7,255.4 L639.9,253.8 L641.2,252.3 L642.4,250.7 L643.7,249.1 L645.0,247.6 L646.2,246.1 L647.5,244.5 L648.8,243.0 L650.1,241.4 L651.3,239.9 L652.6,238.3 L653.8,236.7 L655.0,235.1 L656.2,233.5 L657.3,231.9 L658.5,230.3 L659.7,228.6 L660.8,227.0 L662.0,225.4 L663.2,223.7 L664.3,222.1 L665.6,220.5 L666.8,219.0 L668.0,217.4 L669.3,215.9 L670.6,214.4 L672.0,212.9 L673.4,211.5 L674.8,210.1 L676.2,208.7 L677.7,207.4 L679.3,206.1 L680.9,204.9 L682.5,203.8 L684.2,202.8 L685.9,201.9 L687.7,201.2 L689.6,200.6 L691.4,200.2 L693.3,200.0 L695.2,200.0 L697.0,200.1 L698.9,200.4 L700.8,200.9 L702.6,201.5 L704.4,202.3 L706.1,203.2 L707.8,204.2 L709.5,205.3 L711.2,206.5 L712.8,207.6 L714.4,208.8 L716.0,210.0 L717.5,211.3 L719.1,212.5 L720.7,213.7 L722.3,214.9 L724.0,216.0 L725.6,217.2 L727.3,218.2 L729.0,219.3 L730.7,220.3 L732.4,221.4 L734.1,222.4 L735.9,223.3 L737.7,224.3 L739.4,225.1 L741.3,226.0 L743.1,226.8 L744.9,227.5 L746.8,228.2 L748.7,228.8 L750.6,229.3 L752.5,229.8 L754.5,230.2 L756.4,230.5 L758.4,230.8 L760.4,231.0 L762.4,231.2 L764.4,231.3 L766.4,231.3 L768.4,231.3 L770.4,231.3 L772.4,231.2 L774.4,231.1 L776.3,230.9 L778.3,230.6 L780.3,230.3 L782.3,230.0 L784.2,229.6 L786.2,229.2 L788.1,228.7 L790.0,228.2 L792.0,227.6 L793.8,227.0 L795.7,226.3 L797.6,225.6 L799.5,224.9 L801.3,224.1 L803.1,223.3 L804.9,222.5 L806.7,221.6 L808.5,220.7 L810.3,219.8 L812.1,218.8 L813.8,217.9 L815.5,216.8 L817.2,215.7 L818.8,214.6 L820.4,213.4 L821.9,212.2 L823.4,210.9 L824.9,209.5 L826.4,208.2 L827.8,206.7 L829.2,205.3 L830.5,203.8 L831.9,202.4 L833.2,200.9 L834.6,199.4 L835.9,197.9 L837.2,196.4 L838.5,194.9 L839.8,193.4 L841.1,191.8 L842.3,190.2 L843.6,188.7 L844.7,187.1 L845.9,185.4 L847.1,183.8 L848.2,182.2 L849.3,180.5 L850.4,178.8 L851.5,177.1 L852.5,175.4 L853.6,173.7 L854.6,172.0 L855.7,170.3 L856.7,168.6 L857.8,166.9 L858.8,165.2 L859.9,163.5 L860.9,161.8 L862.0,160.1 L863.0,158.4 L864.0,156.6 L865.1,154.9 L866.1,153.2 L867.1,151.5 L868.2,149.8 L869.2,148.0 L870.2,146.3 L871.2,144.6 L872.2,142.8 L873.1,141.1 L874.1,139.3 L875.1,137.6 L876.0,135.8 L876.9,134.0 L877.9,132.3 L878.8,130.5 L879.7,128.7 L880.6,126.9 L881.5,125.1 L882.3,123.3 L883.2,121.5 L884.0,119.7 L884.9,117.9 L885.7,116.0 L886.5,114.2 L887.3,112.4 L888.1,110.5 L888.9,108.7 L889.6,106.8 L890.4,105.0 L891.2,103.1 L891.9,101.3 L892.7,99.4 L893.4,97.6 L894.1,95.7 L894.9,93.9 L895.6,92.0 L896.4,90.1 L897.1,88.3 L897.9,86.4 L898.6,84.6 L899.4,82.7 L900.1,80.8 L900.8,79.0 L901.6,77.1 L902.3,75.2 L903.0,73.4 L903.7,71.5 L904.4,69.6 L905.1,67.8 L905.8,65.9 L906.5,64.0 L906.3,66.0 L906.1,68.0 L905.8,70.0 L905.7,72.0 L905.5,74.0 L905.3,75.9 L905.1,77.9 L904.9,79.9 L904.8,81.9 L904.6,83.9 L904.5,85.9 L904.3,87.9 L904.2,89.9 L904.1,91.9 L903.9,93.9 L903.8,95.9 L903.6,97.9 L903.5,99.9 L903.4,101.9 L903.2,103.9 L903.0,105.9 L902.9,107.9 L902.7,109.9 L902.5,111.9 L902.3,113.8 L902.2,115.8 L902.0,117.8 L901.8,119.8 L901.6,121.8 L901.3,123.8 L901.1,125.8 L900.9,127.8 L900.6,129.8 L900.3,131.7 L900.1,133.7 L899.8,135.7 L899.5,137.7 L899.2,139.7 L898.9,141.6 L898.6,143.6 L898.3,145.6 L898.0,147.6 L897.7,149.6 L897.4,151.5 L897.1,153.5 L896.9,155.5 L896.6,157.5 L896.4,159.5 L896.1,161.5 L895.9,163.4 L895.6,165.4 L895.4,167.4 L895.1,169.4 L894.9,171.4 L894.6,173.4 L894.4,175.4 L894.1,177.3 L893.8,179.3 L893.6,181.3 L893.3,183.3 L893.0,185.3 L892.7,187.2 L892.4,189.2 L892.2,191.2 L891.9,193.2 L891.6,195.2 L891.2,197.1 L890.9,199.1 L890.6,201.1 L890.3,203.1 L890.0,205.0 L889.6,207.0 L889.3,209.0 L888.9,210.9 L888.5,212.9 L888.1,214.9 L887.7,216.8 L887.3,218.8 L886.9,220.8 L886.5,222.7 L886.1,224.7 L885.6,226.6 L885.1,228.6 L884.7,230.5 L884.2,232.4 L883.7,234.4 L883.2,236.3 L882.6,238.2 L882.1,240.2 L881.5,242.1 L880.9,244.0 L880.3,245.9 L879.7,247.8 L879.1,249.7 L878.5,251.6 L877.8,253.5 L877.2,255.4 L876.5,257.3 L875.9,259.2 L875.2,261.1 L874.5,262.9 L873.8,264.8 L873.1,266.7 L872.4,268.6 L871.7,270.4 L871.0,272.3 L870.3,274.2 L869.6,276.0 L868.8,277.9 L868.1,279.8 L867.4,281.6 L866.7,283.5 L866.0,285.4 L865.2,287.2 L864.5,289.1 L863.8,291.0 L863.0,292.8 L862.3,294.7 L861.5,296.5 L860.8,298.4 L860.0,300.2 L859.2,302.1 L858.4,303.9 L857.6,305.7 L856.7,307.5 L855.9,309.4 L855.0,311.2 L854.1,312.9 L853.2,314.7 L852.3,316.5 L851.3,318.2 L850.4,320.0 L849.4,321.7 L848.3,323.4 L847.3,325.2 L846.2,326.9 L845.2,328.5 L844.1,330.2 L842.9,331.8 L841.8,333.5 L840.6,335.1 L839.3,336.6 L838.1,338.2 L836.8,339.7 L835.5,341.2 L834.2,342.7 L832.8,344.2 L831.4,345.6 L830.0,347.0 L828.6,348.5 L827.2,349.9 L825.8,351.3 L824.3,352.7 L822.9,354.0 L821.4,355.4 L819.9,356.7 L818.4,358.0 L816.8,359.2 L815.2,360.4 L813.6,361.6 L812.0,362.8 L810.4,364.0 L808.8,365.2 L807.1,366.3 L805.5,367.5 L803.9,368.7 L802.3,369.8 L800.7,371.0 L799.1,372.2 L797.5,373.5 L795.9,374.7 L794.3,375.9 L792.7,377.0 L791.1,378.2 L789.4,379.3 L787.7,380.4 L786.0,381.5 L784.3,382.5 L782.6,383.4 L780.8,384.4 L779.0,385.3 L777.2,386.2 L775.4,387.0 L773.6,387.9 L771.8,388.7 L770.0,389.5 L768.1,390.3 L766.3,391.1 L764.4,391.8 L762.6,392.6 L760.8,393.4 L758.9,394.2 L757.1,395.0 L755.2,395.8 L753.4,396.6 L751.6,397.4 L749.7,398.2 L747.9,398.9 L746.1,399.7 L744.2,400.5 L742.4,401.3 L740.5,402.0 L738.6,402.8 L736.8,403.5 L734.9,404.2 L733.0,404.9 L731.2,405.6 L729.3,406.3 L727.4,407.0 L725.5,407.7 L723.7,408.4 L721.8,409.1 L719.9,409.8 L718.0,410.5 L716.2,411.2 L714.3,411.8 L712.4,412.5 L710.5,413.2 L708.6,413.9 L706.8,414.6 L704.9,415.3 L703.0,416.0 L701.1,416.7 L699.3,417.4 L697.4,418.1 L695.5,418.9 L693.7,419.6 L691.8,420.3 L690.0,421.1 L688.1,421.9 L686.3,422.7 L684.4,423.5 L682.6,424.3 L680.8,425.1 L678.9,425.9 L677.1,426.7 L675.3,427.5 L673.4,428.2 L671.6,429.0 L669.7,429.8 L667.9,430.5 L666.0,431.2 L664.1,431.9 L662.2,432.6 L660.4,433.2 L658.5,433.8 L656.5,434.4 L654.6,435.0 L652.7,435.6 L650.8,436.2 L648.9,436.7 L647.0,437.3 L645.0,437.8 L643.1,438.4 L641.2,438.9 L639.3,439.5 L637.3,440.0 L635.4,440.6 L633.5,441.1 L631.6,441.7 L629.6,442.2 L627.7,442.8 L625.8,443.4 L623.9,443.9 L622.0,444.5 L620.0,445.1 L618.1,445.7 L616.2,446.2 L614.3,446.8 L612.4,447.4 L610.5,448.0 L608.6,448.6 L606.7,449.2 L604.8,449.8 L602.9,450.5 L601.0,451.1 L599.1,451.8 L597.2,452.5 L595.4,453.3 L593.6,454.1 L591.7,454.9 L589.9,455.7 L588.1,456.6 L586.3,457.5 L584.6,458.5 L582.8,459.5 L581.1,460.5 L579.4,461.5 L577.8,462.6 L576.1,463.7 L574.5,464.9 L572.9,466.1 L571.3,467.3 L569.7,468.5 L568.2,469.8 L566.7,471.1 L565.2,472.5 L563.8,473.9 L562.3,475.3 L560.9,476.7 L559.5,478.1 L558.1,479.5 L556.7,481.0 L555.4,482.4 L554.0,483.8 L552.6,485.3 L551.2,486.7 L549.8,488.2 L548.4,489.6 L547.0,491.1 L545.6,492.5 L544.2,493.9 L542.8,495.4 L541.4,496.8 L540.0,498.2 L538.6,499.6 L537.2,501.1 L535.8,502.5 L534.3,503.8 L532.9,505.2 L531.4,506.5 L529.8,507.7 L528.3,509.0 L526.7,510.2 L525.1,511.3 L523.5,512.5 L521.8,513.7 L520.2,514.8 L518.5,515.9 L516.9,517.0 L515.2,518.1 L513.6,519.2 L511.9,520.3 L510.2,521.4 L508.5,522.3 L506.7,523.3 L504.9,524.1 L503.1,524.9 L501.3,525.7 L499.4,526.3 L497.5,526.9 L495.6,527.5 L493.7,528.0 L491.7,528.5 L489.8,529.0 L487.8,529.4 L485.9,529.8 L483.9,530.2 L481.9,530.6 L480.0,531.0 L478.0,531.3 L476.0,531.7 L474.1,532.0 L472.1,532.3 L470.1,532.6 L468.1,532.9 L466.1,533.1 L464.2,533.3 L462.2,533.6 L460.2,533.7 L458.2,533.9 L456.2,534.0 L454.2,534.2 L452.2,534.2 L450.2,534.3 L448.2,534.4 L446.2,534.4 L444.2,534.4 L442.2,534.4 L440.2,534.3 L438.2,534.3 L436.2,534.2 L434.2,534.1 L432.2,534.0 L430.2,533.8 L428.2,533.6 L426.2,533.4 L424.3,533.2 L422.3,532.9 L420.3,532.7 L418.3,532.4 L416.3,532.1 L414.3,531.8 L412.4,531.5 L410.4,531.1 L408.4,530.8 L406.5,530.5 L404.5,530.1 L402.5,529.8 L400.5,529.4 L398.6,529.1 L396.6,528.7 L394.6,528.3 L392.7,528.0 L390.7,527.6 L388.7,527.2 L386.8,526.9 L384.8,526.5 L382.8,526.1 L380.9,525.8 L378.9,525.4 L376.9,525.1 L375.0,524.7 L373.0,524.4 L371.0,524.1 L369.0,523.7 L367.1,523.4 L365.1,523.1 L363.1,522.7 L361.2,522.4 L359.2,522.0 L357.2,521.6 L355.3,521.2 L353.3,520.8 L351.3,520.4 L349.4,520.0 L347.4,519.5 L345.5,519.1 L343.5,518.6 L341.6,518.1 L339.7,517.6 L337.7,517.2 L335.8,516.7 L333.8,516.2 L331.9,515.6 L330.0,515.1 L328.0,514.6 L326.1,514.1 L324.2,513.7 L322.2,513.2 L320.3,512.7 L318.3,512.2 L316.4,511.7 L314.5,511.2 L312.5,510.7 L310.6,510.2 L308.6,509.8 L306.7,509.3 L304.7,508.8 L302.8,508.3 L300.9,507.8 L298.9,507.4 L297.0,506.9 L295.0,506.5 L293.1,506.0 L291.1,505.5 L289.2,505.1 L287.2,504.6 L285.3,504.2 L283.3,503.8 L281.4,503.3 L279.4,502.9 L277.5,502.5 L275.5,502.0 L273.5,501.6 L271.6,501.2 L269.6,500.8 L267.7,500.4 L265.7,500.0 L263.7,499.6 L261.8,499.2 L259.8,498.8 L257.9,498.4 L255.9,498.0 L254.0,497.5 L252.0,497.1 L250.1,496.7 L248.1,496.2 L246.2,495.8 L244.2,495.3 L242.3,494.9 L240.3,494.4 L238.3,494.0 L236.4,493.6 L234.4,493.1 L232.5,492.7 L230.5,492.3 L228.6,491.9 L226.6,491.6 L224.6,491.2 L222.7,490.9 L220.7,490.5 L218.7,490.2 L216.7,489.9 L214.8,489.6 L212.8,489.3 L210.8,489.1 L208.8,488.8 L206.8,488.6 L204.8,488.4 L202.8,488.2 L200.8,488.0 L198.9,487.8 L196.9,487.6 L194.9,487.5 L192.9,487.3 L190.9,487.2 L188.9,487.0 L186.9,486.9 L184.9,486.8 L182.9,486.6 L180.9,486.5 L178.9,486.4 L176.9,486.2 L174.9,486.1 L176.6,485.1 L178.4,484.2 L180.2,483.4 L182.1,482.6 L184.0,482.0 L185.8,481.2 L187.7,480.5 L189.6,479.9 L191.5,479.3 L193.4,478.7 L195.3,478.1 L197.2,477.6 L199.2,477.0 L201.1,476.5 L203.0,476.0 L205.0,475.5 L206.9,475.1 L208.9,474.6 L210.8,474.1 L212.7,473.7 L214.7,473.2 L216.6,472.7 L218.6,472.3 L220.5,471.8 L222.5,471.3 L224.4,470.9 L226.4,470.4 L228.3,469.9 L230.3,469.5 L232.2,469.1 L234.2,468.6 L236.1,468.2 L238.1,467.9 L240.1,467.5 L242.0,467.2 L244.0,466.8 L246.0,466.5 L247.9,466.2 L249.9,465.9 L251.9,465.6 L253.9,465.4 L255.9,465.1 L257.9,464.9 L259.8,464.7 L261.8,464.5 L263.8,464.3 L265.8,464.2 L267.8,464.0 L269.8,463.9 L271.8,463.7 L273.8,463.6 L275.8,463.4 L277.8,463.2 L279.8,463.0 L281.8,462.8 L283.7,462.5 L285.7,462.2 L287.7,461.9 L289.7,461.6 L291.6,461.3 L293.6,460.9 L295.6,460.5 L297.5,460.1 L299.5,459.7 L301.4,459.3 L303.4,458.9 L305.4,458.5 L307.3,458.1 L309.3,457.7 L311.2,457.3 L313.2,457.0 L315.2,456.6 L317.1,456.2 L319.1,455.9 L321.1,455.5 L323.1,455.2 L325.0,454.9 L327.0,454.5 L329.0,454.2 L330.9,453.8 L332.9,453.5 L334.9,453.1 L336.8,452.8 L338.8,452.4 L340.8,452.0 L342.7,451.6 L344.7,451.3 L346.7,450.9 L348.6,450.5 L350.6,450.1 L352.6,449.7 L354.5,449.3 L356.5,448.9 L358.4,448.5 L360.4,448.1 L362.4,447.7 L364.3,447.3 L366.3,446.9 L368.2,446.6 L370.2,446.2 L372.2,445.8 L374.1,445.4 L376.1,445.1 L378.1,444.7 L380.0,444.3 L382.0,444.0 L384.0,443.6 L385.9,443.3 L387.9,442.9 L389.9,442.5 L391.8,442.1 L393.8,441.8 L395.8,441.4 L397.7,441.0 L399.7,440.6 L401.7,440.2 L403.6,439.9 L405.6,439.4 L407.5,439.0 L409.5,438.6 L411.4,438.2 L413.4,437.7 L415.3,437.3 L417.3,436.8 L419.2,436.3 L421.2,435.8 L423.1,435.3 L425.0,434.8 L427.0,434.3 L428.9,433.8 L430.8,433.3 L432.8,432.7 L434.7,432.2 L436.6,431.7 L438.5,431.1 L440.5,430.5 L442.4,430.0 L444.3,429.4 L446.2,428.8 L448.1,428.2 L450.0,427.6 L451.9,426.9 L453.8,426.3 L455.7,425.6 L457.6,425.0 L459.5,424.3 L461.3,423.6 L463.2,423.0 L465.1,422.3 L467.0,421.6 L468.9,420.9 L470.7,420.2 L472.6,419.5 L474.5,418.8 L476.4,418.1 L478.2,417.4 L480.1,416.7 L482.0,416.0 L483.8,415.2 L485.7,414.5 L487.6,413.8 L489.4,413.1 L491.3,412.4 L493.2,411.6 L495.0,410.9 L496.9,410.2 L498.8,409.5 L500.7,408.8 L502.5,408.2 L504.4,407.5 L506.3,406.8 L508.2,406.2 L510.1,405.5 L512.0,404.9 L513.9,404.2 L515.7,403.5 L517.6,402.7 L519.4,402.0 L521.2,401.1 L523.0,400.3 L524.8,399.4 L526.6,398.5 L528.4,397.6 L530.1,396.6 L531.8,395.6 L533.6,394.6 L535.3,393.5 L537.0,392.5 L538.7,391.5 L540.4,390.4" fill="none" stroke="#ff00ff" stroke-width="4" stroke-linejoin="round" stroke-linecap="round"/>
<path d="M540.4,374.4 L542.2,373.6 L544.1,372.8 L545.9,372.0 L547.7,371.2 L549.5,370.3 L551.3,369.4 L553.1,368.5 L554.9,367.6 L556.6,366.6 L558.3,365.6 L560.0,364.6 L561.7,363.5 L563.4,362.4 L565.0,361.3 L566.7,360.1 L568.3,358.9 L569.9,357.7 L571.4,356.5 L573.0,355.3 L574.6,354.0 L576.1,352.7 L577.6,351.4 L579.1,350.1 L580.6,348.8 L582.1,347.5 L583.6,346.1 L585.0,344.7 L586.5,343.3 L587.9,341.9 L589.3,340.5 L590.7,339.1 L592.1,337.7 L593.5,336.2 L594.8,334.7 L596.2,333.3 L597.6,331.8 L598.9,330.3 L600.2,328.8 L601.6,327.3 L602.9,325.8 L604.2,324.4 L605.6,322.9 L606.9,321.4 L608.2,319.9 L609.6,318.4 L610.9,316.9 L612.2,315.4 L613.6,313.9 L614.9,312.4 L616.2,310.9 L617.6,309.5 L619.0,308.0 L620.4,306.6 L621.7,305.1 L623.2,303.7 L624.6,302.3 L626.0,300.9 L627.5,299.6 L628.9,298.2 L630.4,296.9 L631.9,295.5 L633.4,294.2 L634.9,292.9 L636.4,291.6 L638.0,290.3 L639.5,289.0 L641.1,287.8 L642.6,286.5 L644.2,285.3 L645.8,284.1 L647.4,283.0 L649.1,281.8 L650.7,280.7 L652.4,279.6 L654.1,278.6 L655.9,277.6 L657.6,276.6 L659.4,275.7 L661.2,274.9 L663.0,274.1 L664.8,273.3 L666.7,272.6 L668.6,271.9 L670.5,271.3 L672.4,270.8 L674.3,270.3 L676.3,269.8 L678.2,269.4 L680.2,269.0 L682.1,268.6 L684.1,268.2 L686.1,267.9 L688.0,267.6 L690.0,267.3 L692.0,267.0 L694.0,266.7 L696.0,266.4 L697.9,266.2 L699.9,266.0 L701.9,265.8 L703.9,265.6 L705.9,265.4 L707.9,265.2 L709.9,265.1 L711.9,265.0 L713.9,264.9 L715.9,264.8 L717.9,264.7 L719.9,264.6 L721.9,264.6 L723.9,264.6 L725.9,264.6 L727.9,264.6 L729.9,264.6 L731.9,264.6 L733.9,264.7 L735.9,264.8 L737.9,264.8 L739.9,264.9 L741.9,264.9 L743.9,265.0 L745.9,265.0 L747.9,265.0 L749.9,265.0 L751.9,264.9 L753.9,264.9 L755.9,264.8 L757.9,264.7 L759.9,264.6 L761.8,264.5 L763.8,264.3 L765.8,264.1 L767.8,263.9 L769.8,263.7 L771.8,263.4 L773.7,263.1 L775.7,262.7 L777.6,262.3 L779.6,261.8 L781.5,261.3 L783.4,260.7 L785.3,260.1 L787.1,259.4 L789.0,258.6 L790.8,257.8 L792.6,257.0 L794.4,256.1 L796.2,255.3 L798.0,254.3 L799.8,253.4 L801.5,252.4 L803.2,251.4 L804.9,250.3 L806.6,249.2 L808.2,248.1 L809.9,247.0 L811.5,245.8 L813.1,244.6 L814.7,243.4 L816.3,242.2 L817.9,241.0 L819.4,239.7 L821.0,238.5 L822.5,237.2 L824.1,235.9 L825.6,234.6 L827.1,233.3 L828.7,232.1 L830.2,230.8 L831.7,229.5 L833.2,228.1 L834.7,226.8 L836.2,225.5 L837.7,224.2 L839.2,222.8 L840.6,221.4 L842.0,220.0 L843.4,218.6 L844.7,217.1 L846.0,215.6 L847.3,214.0 L848.5,212.5 L849.7,210.9 L850.9,209.3 L852.1,207.6 L853.2,206.0 L854.4,204.4 L855.6,202.8 L856.8,201.2 L858.0,199.6 L859.3,198.1 L860.5,196.5 L861.8,195.0 L863.0,193.4 L864.3,191.9 L865.5,190.3 L866.7,188.7 L867.9,187.1 L869.1,185.5 L870.2,183.8 L871.2,182.1 L872.3,180.4 L873.3,178.7 L874.3,177.0 L875.4,175.3 L876.3,173.5 L877.3,171.8 L878.3,170.1 L879.3,168.3 L880.3,166.6 L881.3,164.8 L882.3,163.1 L883.3,161.4 L884.3,159.6 L885.3,157.9 L886.3,156.2 L887.3,154.4 L888.3,152.7 L889.4,151.0 L890.4,149.3 L891.5,147.6 L892.6,145.9 L893.7,144.3 L894.8,142.6 L895.9,140.9 L896.9,139.3 L898.0,137.6 L899.1,135.9 L900.2,134.2 L901.3,132.5 L902.3,130.8 L903.4,129.1 L904.4,127.4 L905.5,125.7 L906.5,124.0 L906.4,126.0 L906.3,128.0 L906.2,130.0 L906.0,132.0 L905.8,134.0 L905.7,136.0 L905.5,138.0 L905.3,140.0 L905.1,141.9 L904.8,143.9 L904.6,145.9 L904.3,147.9 L904.1,149.9 L903.9,151.9 L903.6,153.9 L903.4,155.9 L903.2,157.8 L903.0,159.8 L902.7,161.8 L902.5,163.8 L902.3,165.8 L902.1,167.8 L901.9,169.8 L901.7,171.8 L901.4,173.7 L901.1,175.7 L900.9,177.7 L900.6,179.7 L900.3,181.7 L899.9,183.6 L899.6,185.6 L899.3,187.6 L899.0,189.6 L898.6,191.5 L898.3,193.5 L898.0,195.5 L897.7,197.5 L897.3,199.4 L897.0,201.4 L896.7,203.4 L896.4,205.4 L896.0,207.3 L895.7,209.3 L895.3,211.3 L894.9,213.2 L894.5,215.2 L894.1,217.2 L893.7,219.1 L893.3,221.1 L892.9,223.0 L892.4,225.0 L892.0,226.9 L891.5,228.9 L891.0,230.8 L890.6,232.8 L890.1,234.7 L889.7,236.7 L889.2,238.6 L888.8,240.6 L888.3,242.5 L887.8,244.5 L887.4,246.4 L886.9,248.4 L886.5,250.3 L886.0,252.3 L885.6,254.2 L885.1,256.2 L884.6,258.1 L884.2,260.0 L883.7,262.0 L883.2,263.9 L882.7,265.9 L882.2,267.8 L881.7,269.7 L881.1,271.7 L880.6,273.6 L880.0,275.5 L879.3,277.4 L878.6,279.2 L877.9,281.1 L877.2,283.0 L876.5,284.8 L875.7,286.7 L875.0,288.5 L874.3,290.4 L873.6,292.3 L873.0,294.2 L872.3,296.1 L871.7,298.0 L871.2,299.9 L870.6,301.8 L870.1,303.7 L869.6,305.7 L869.0,307.6 L868.4,309.5 L867.8,311.4 L867.2,313.3 L866.5,315.2 L865.9,317.1 L865.2,318.9 L864.4,320.8 L863.6,322.6 L862.8,324.5 L862.0,326.3 L861.1,328.0 L860.1,329.8 L859.1,331.5 L858.1,333.2 L857.0,334.9 L855.9,336.5 L854.7,338.1 L853.5,339.7 L852.3,341.3 L851.0,342.9 L849.8,344.4 L848.5,346.0 L847.2,347.5 L846.0,349.1 L844.7,350.6 L843.4,352.2 L842.1,353.7 L840.9,355.2 L839.6,356.8 L838.3,358.3 L837.0,359.8 L835.6,361.3 L834.3,362.8 L833.0,364.3 L831.7,365.8 L830.3,367.3 L829.0,368.8 L827.6,370.2 L826.3,371.7 L824.9,373.1 L823.5,374.6 L822.1,376.0 L820.7,377.4 L819.2,378.8 L817.8,380.2 L816.3,381.5 L814.8,382.8 L813.3,384.1 L811.7,385.4 L810.1,386.6 L808.6,387.9 L807.0,389.1 L805.4,390.2 L803.7,391.4 L802.1,392.5 L800.4,393.7 L798.8,394.8 L797.1,395.8 L795.4,396.9 L793.7,397.9 L791.9,399.0 L790.2,399.9 L788.5,400.9 L786.7,401.8 L784.9,402.7 L783.1,403.6 L781.3,404.4 L779.5,405.2 L777.6,406.0 L775.8,406.7 L773.9,407.4 L772.0,408.1 L770.1,408.8 L768.2,409.4 L766.3,410.0 L764.4,410.6 L762.5,411.1 L760.5,411.6 L758.6,412.1 L756.6,412.5 L754.7,412.8 L752.7,413.1 L750.7,413.4 L748.8,413.7 L746.8,414.0 L744.8,414.3 L742.8,414.6 L740.9,414.9 L738.9,415.3 L737.0,415.7 L735.0,416.2 L733.1,416.7 L731.2,417.2 L729.3,417.8 L727.3,418.4 L725.4,419.0 L723.5,419.6 L721.6,420.1 L719.7,420.7 L717.8,421.3 L715.9,421.9 L714.0,422.5 L712.0,423.1 L710.1,423.6 L708.2,424.2 L706.3,424.8 L704.4,425.4 L702.4,425.9 L700.5,426.5 L698.6,427.1 L696.7,427.7 L694.8,428.2 L692.9,428.8 L690.9,429.4 L689.0,430.0 L687.1,430.5 L685.2,431.1 L683.3,431.7 L681.4,432.3 L679.4,432.8 L677.5,433.4 L675.6,434.0 L673.7,434.6 L671.8,435.2 L669.9,435.7 L668.0,436.3 L666.0,436.9 L664.1,437.5 L662.2,438.1 L660.3,438.7 L658.4,439.3 L656.5,439.9 L654.6,440.5 L652.7,441.1 L650.8,441.8 L648.9,442.4 L647.0,443.0 L645.1,443.6 L643.2,444.3 L641.3,444.9 L639.4,445.6 L637.5,446.2 L635.6,446.9 L633.7,447.5 L631.8,448.2 L630.0,448.9 L628.1,449.6 L626.2,450.3 L624.3,451.0 L622.5,451.7 L620.6,452.4 L618.7,453.1 L616.8,453.8 L615.0,454.5 L613.1,455.1 L611.2,455.8 L609.3,456.6 L607.5,457.3 L605.7,458.1 L603.9,458.9 L602.1,459.8 L600.3,460.7 L598.5,461.6 L596.8,462.6 L595.1,463.6 L593.4,464.7 L591.7,465.7 L590.0,466.8 L588.3,467.9 L586.7,469.0 L585.0,470.1 L583.3,471.2 L581.7,472.3 L580.0,473.4 L578.3,474.5 L576.6,475.6 L575.0,476.7 L573.3,477.8 L571.6,478.9 L570.0,480.0 L568.3,481.1 L566.6,482.2 L565.0,483.3 L563.3,484.4 L561.6,485.5 L560.0,486.6 L558.3,487.8 L556.6,488.9 L555.0,490.0 L553.3,491.1 L551.6,492.2 L549.9,493.3 L548.2,494.3 L546.5,495.4 L544.8,496.4 L543.1,497.5 L541.4,498.5 L539.7,499.5 L537.9,500.4 L536.2,501.4 L534.4,502.3 L532.6,503.2 L530.8,504.0 L528.9,504.8 L527.1,505.6 L525.3,506.4 L523.4,507.2 L521.6,508.0 L519.7,508.7 L517.9,509.4 L516.0,510.1 L514.1,510.8 L512.2,511.5 L510.3,512.1 L508.4,512.8 L506.5,513.4 L504.6,514.0 L502.7,514.5 L500.8,515.0 L498.8,515.5 L496.9,516.0 L494.9,516.4 L493.0,516.8 L491.0,517.2 L489.0,517.6 L487.1,517.9 L485.1,518.3 L483.1,518.6 L481.2,518.9 L479.2,519.2 L477.2,519.5 L475.2,519.8 L473.2,520.1 L471.3,520.4 L469.3,520.7 L467.3,520.9 L465.3,521.2 L463.3,521.5 L461.3,521.7 L459.4,522.0 L457.4,522.2 L455.4,522.4 L453.4,522.7 L451.4,522.9 L449.4,523.2 L447.4,523.4 L445.4,523.6 L443.5,523.9 L441.5,524.1 L439.5,524.4 L437.5,524.6 L435.5,524.9 L433.5,525.1 L431.5,525.4 L429.6,525.6 L427.6,525.9 L425.6,526.1 L423.6,526.4 L421.6,526.6 L419.6,526.8 L417.6,527.1 L415.6,527.3 L413.7,527.5 L411.7,527.7 L409.7,527.9 L407.7,528.1 L405.7,528.3 L403.7,528.5 L401.7,528.6 L399.7,528.8 L397.7,528.9 L395.7,529.0 L393.7,529.1 L391.7,529.2 L389.7,529.3 L387.7,529.3 L385.7,529.3 L383.7,529.3 L381.7,529.2 L379.7,529.1 L377.7,529.1 L375.7,528.9 L373.7,528.8 L371.7,528.7 L369.7,528.5 L367.8,528.3 L365.8,528.1 L363.8,527.9 L361.8,527.7 L359.8,527.4 L357.8,527.1 L355.9,526.8 L353.9,526.5 L351.9,526.2 L349.9,525.9 L347.9,525.6 L346.0,525.3 L344.0,525.0 L342.0,524.7 L340.0,524.4 L338.1,524.1 L336.1,523.8 L334.1,523.5 L332.1,523.2 L330.1,522.9 L328.2,522.6 L326.2,522.3 L324.2,522.0 L322.2,521.7 L320.2,521.4 L318.3,521.1 L316.3,520.8 L314.3,520.5 L312.3,520.2 L310.4,519.9 L308.4,519.5 L306.4,519.2 L304.4,518.9 L302.4,518.7 L300.5,518.4 L298.5,518.1 L296.5,517.8 L294.5,517.6 L292.5,517.3 L290.5,517.0 L288.6,516.8 L286.6,516.6 L284.6,516.3 L282.6,516.1 L280.6,515.8 L278.6,515.6 L276.6,515.3 L274.7,515.1 L272.7,514.8 L270.7,514.5 L268.7,514.2 L266.7,513.9 L264.8,513.6 L262.8,513.3 L260.8,513.0 L258.8,512.6 L256.9,512.3 L254.9,511.9 L252.9,511.5 L251.0,511.1 L249.0,510.8 L247.0,510.4 L245.1,510.0 L243.1,509.6 L241.1,509.2 L239.2,508.9 L237.2,508.5 L235.2,508.2 L233.3,507.9 L231.3,507.6 L229.3,507.3 L227.3,507.0 L225.3,506.8 L223.4,506.5 L221.4,506.3 L219.4,506.1 L217.4,505.9 L215.4,505.7 L213.4,505.5 L211.4,505.3 L209.4,505.1 L207.4,504.9 L205.4,504.7 L203.4,504.6 L201.4,504.4 L199.4,504.3 L197.4,504.2 L195.4,504.2 L193.5,504.2 L191.5,504.2 L189.5,504.2 L187.5,504.3 L185.5,504.4 L183.5,504.4 L181.5,504.6 L179.5,504.7 L177.5,504.9 L175.5,505.2 L176.5,503.5 L177.7,501.9 L179.1,500.6 L180.7,499.5 L182.4,498.5 L184.0,497.3 L185.6,496.3 L187.4,495.3 L189.2,494.5 L191.0,493.7 L192.8,492.9 L194.7,492.1 L196.5,491.4 L198.4,490.6 L200.2,489.9 L202.1,489.2 L203.9,488.4 L205.8,487.7 L207.7,487.0 L209.5,486.2 L211.4,485.5 L213.2,484.7 L215.1,484.0 L216.9,483.2 L218.8,482.4 L220.6,481.6 L222.4,480.8 L224.2,480.0 L226.1,479.2 L227.9,478.3 L229.7,477.5 L231.5,476.7 L233.3,475.8 L235.1,475.0 L237.0,474.2 L238.8,473.4 L240.6,472.7 L242.5,471.9 L244.4,471.2 L246.2,470.5 L248.1,469.8 L250.0,469.1 L251.8,468.4 L253.7,467.7 L255.6,467.0 L257.5,466.4 L259.4,465.7 L261.2,465.0 L263.1,464.4 L265.0,463.8 L266.9,463.2 L268.8,462.6 L270.8,462.1 L272.7,461.6 L274.6,461.1 L276.6,460.6 L278.5,460.1 L280.5,459.7 L282.4,459.3 L284.4,458.8 L286.3,458.4 L288.3,458.0 L290.2,457.5 L292.2,457.1 L294.1,456.6 L296.1,456.2 L298.0,455.7 L299.9,455.3 L301.9,454.8 L303.8,454.3 L305.8,453.8 L307.7,453.4 L309.6,452.9 L311.6,452.4 L313.5,451.9 L315.5,451.4 L317.4,450.9 L319.3,450.4 L321.3,449.9 L323.2,449.4 L325.1,448.9 L327.0,448.4 L329.0,447.8 L330.9,447.3 L332.8,446.8 L334.8,446.3 L336.7,445.7 L338.6,445.2 L340.5,444.7 L342.5,444.1 L344.4,443.6 L346.3,443.1 L348.2,442.6 L350.2,442.1 L352.1,441.6 L354.1,441.1 L356.0,440.6 L357.9,440.2 L359.9,439.7 L361.8,439.3 L363.8,438.9 L365.7,438.4 L367.7,438.0 L369.6,437.6 L371.6,437.1 L373.5,436.7 L375.5,436.2 L377.4,435.7 L379.4,435.3 L381.3,434.8 L383.2,434.3 L385.2,433.8 L387.1,433.2 L389.0,432.7 L390.9,432.1 L392.9,431.6 L394.8,431.0 L396.7,430.5 L398.6,429.9 L400.5,429.4 L402.4,428.8 L404.4,428.3 L406.3,427.7 L408.2,427.2 L410.1,426.6 L412.0,426.0 L414.0,425.5 L415.9,424.9 L417.8,424.4 L419.7,423.8 L421.6,423.2 L423.5,422.7 L425.5,422.1 L427.4,421.5 L429.3,421.0 L431.2,420.4 L433.1,419.8 L435.0,419.2 L436.9,418.7 L438.9,418.1 L440.8,417.5 L442.7,416.9 L444.6,416.4 L446.5,415.8 L448.4,415.2 L450.4,414.7 L452.3,414.1 L454.2,413.5 L456.1,413.0 L458.0,412.4 L459.9,411.8 L461.8,411.3 L463.8,410.7 L465.7,410.1 L467.6,409.5 L469.5,408.9 L471.4,408.3 L473.3,407.7 L475.2,407.1 L477.1,406.4 L479.0,405.8 L480.9,405.1 L482.7,404.5 L484.6,403.8 L486.5,403.1 L488.4,402.5 L490.3,401.8 L492.2,401.1 L494.0,400.5 L495.9,399.8 L497.8,399.2 L499.7,398.5 L501.6,397.9 L503.5,397.3 L505.4,396.6 L507.3,396.0 L509.2,395.4 L511.1,394.8 L513.0,394.1 L514.9,393.5 L516.8,392.8 L518.7,392.2 L520.5,391.5 L522.4,390.8 L524.3,390.1 L526.2,389.4 L528.0,388.7 L529.9,388.0 L531.7,387.2 L533.6,386.5 L535.4,385.7 L537.3,385.0 L539.1,384.2 L541.0,383.5" fill="none" stroke="#008000" stroke-width="4" stroke-linejoin="round" stroke-linecap="round"/>
<path d="M175.7,607.7 L175.8,605.7 L175.9,603.7 L176.0,601.7 L176.1,599.7 L176.3,597.7 L176.4,595.7 L176.5,593.7 L176.6,591.7 L176.8,589.7 L176.9,587.7 L177.1,585.8 L177.2,583.8 L177.4,581.8 L177.6,579.8 L177.8,577.8 L178.0,575.8 L178.3,573.8 L178.5,571.8 L178.8,569.9 L179.0,567.9 L179.3,565.9 L179.6,563.9 L180.0,562.0 L180.3,560.0 L180.6,558.0 L181.0,556.1 L181.4,554.1 L181.8,552.1 L182.2,550.2 L182.7,548.2 L183.1,546.3 L183.6,544.4 L184.1,542.4 L184.7,540.5 L185.2,538.6 L185.8,536.7 L186.4,534.8 L187.0,532.9 L187.6,531.0 L188.3,529.1 L188.9,527.2 L189.6,525.3 L190.3,523.5 L191.1,521.6 L191.8,519.8 L192.6,517.9 L193.5,516.1 L194.3,514.3 L195.3,512.5 L196.2,510.8 L197.2,509.1 L198.2,507.3 L199.2,505.6 L200.2,503.9 L201.3,502.2 L202.4,500.5 L203.5,498.9 L204.6,497.2 L205.8,495.6 L207.0,494.0 L208.2,492.5 L209.5,490.9 L210.8,489.5 L212.1,488.0 L213.6,486.6 L215.0,485.3 L216.6,484.0 L218.1,482.7 L219.7,481.5 L221.3,480.3 L222.9,479.2 L224.6,478.1 L226.2,477.0 L227.9,475.9 L229.6,474.9 L231.3,473.9 L233.1,472.9 L234.8,471.9 L236.6,470.9 L238.3,470.0 L240.1,469.1 L241.9,468.2 L243.7,467.3 L245.5,466.4 L247.3,465.6 L249.1,464.7 L250.9,463.8 L252.7,463.0 L254.5,462.1 L256.2,461.1 L258.0,460.2 L259.8,459.3 L261.5,458.3 L263.3,457.4 L265.1,456.5 L266.9,455.7 L268.7,454.8 L270.5,454.0 L272.3,453.2 L274.2,452.5 L276.0,451.9 L277.9,451.2 L279.8,450.6 L281.8,450.0 L283.7,449.5 L285.6,448.9 L287.5,448.4 L289.4,447.8 L291.4,447.3 L293.3,446.7 L295.2,446.2 L297.1,445.7 L299.1,445.2 L301.0,444.7 L302.9,444.2 L304.9,443.7 L306.8,443.2 L308.8,442.7 L310.7,442.2 L312.6,441.8 L314.6,441.3 L316.5,440.8 L318.5,440.3 L320.4,439.9 L322.3,439.4 L324.3,438.9 L326.2,438.4 L328.2,437.9 L330.1,437.4 L332.0,436.9 L334.0,436.4 L335.9,435.9 L337.8,435.4 L339.8,434.9 L341.7,434.4 L343.7,434.0 L345.6,433.5 L347.5,433.0 L349.5,432.6 L351.4,432.2 L353.4,431.7 L355.4,431.4 L357.3,431.0 L359.3,430.6 L361.2,430.2 L363.2,429.9 L365.2,429.6 L367.2,429.2 L369.1,428.9 L371.1,428.5 L373.1,428.2 L375.0,427.9 L377.0,427.5 L379.0,427.2 L380.9,426.8 L382.9,426.4 L384.9,426.1 L386.8,425.7 L388.8,425.3 L390.7,424.9 L392.7,424.4 L394.6,424.0 L396.6,423.5 L398.5,423.0 L400.4,422.5 L402.4,422.0 L404.3,421.4 L406.2,420.8 L408.1,420.3 L410.0,419.7 L411.9,419.1 L413.8,418.5 L415.7,417.9 L417.7,417.3 L419.6,416.8 L421.5,416.2 L423.4,415.7 L425.4,415.2 L427.3,414.6 L429.2,414.1 L431.1,413.6 L433.1,413.1 L435.0,412.6 L436.9,412.1 L438.9,411.6 L440.8,411.1 L442.7,410.5 L444.7,410.0 L446.6,409.5 L448.5,408.9 L450.4,408.4 L452.4,407.9 L454.3,407.3 L456.2,406.8 L458.1,406.2 L460.1,405.7 L462.0,405.1 L463.9,404.6 L465.8,404.0 L467.7,403.5 L469.7,402.9 L471.6,402.4 L473.5,401.8 L475.4,401.3 L477.4,400.8 L479.3,400.2 L481.2,399.7 L483.1,399.1 L485.1,398.6 L487.0,398.0 L488.9,397.5 L490.8,396.9 L492.7,396.4 L494.7,395.8 L496.6,395.3 L498.5,394.7 L500.4,394.1 L502.3,393.6 L504.2,393.0 L506.1,392.4 L508.1,391.8 L510.0,391.2 L511.9,390.6 L513.8,390.0 L515.7,389.4 L517.6,388.8 L519.5,388.1 L521.4,387.5 L523.3,386.9 L525.2,386.2 L527.0,385.5 L528.9,384.8 L530.8,384.1 L532.6,383.4 L534.5,382.6 L536.3,381.8 L538.1,381.0 L540.0,380.2 L541.8,379.4 L543.6,378.5 L545.4,377.7 L547.2,376.8 L549.0,375.9 L550.8,375.0 L552.5,374.1 L554.3,373.2 L556.1,372.3 L557.9,371.4 L559.7,370.5 L561.5,369.6 L563.2,368.7 L565.0,367.8 L566.8,366.9 L568.6,366.1 L570.5,365.2 L572.3,364.4 L574.1,363.6 L575.9,362.8 L577.8,362.0 L579.6,361.2 L581.4,360.4 L583.2,359.6 L585.1,358.8 L586.9,357.9 L588.7,357.0 L590.4,356.1 L592.2,355.2 L593.9,354.2 L595.6,353.1 L597.3,352.1 L598.9,350.9 L600.6,349.8 L602.2,348.6 L603.8,347.4 L605.4,346.2 L606.9,345.0 L608.5,343.7 L610.1,342.5 L611.6,341.3 L613.2,340.0 L614.8,338.8 L616.4,337.6 L618.0,336.4 L619.7,335.3 L621.3,334.2 L623.0,333.1 L624.7,332.0 L626.4,331.0 L628.1,330.1 L629.9,329.1 L631.7,328.3 L633.5,327.4 L635.3,326.6 L637.2,325.9 L639.0,325.1 L640.9,324.5 L642.8,323.8 L644.7,323.3 L646.6,322.8 L648.6,322.4 L650.5,322.0 L652.5,321.7 L654.4,321.5 L656.4,321.4 L658.4,321.3 L660.4,321.3 L662.4,321.4 L664.4,321.5 L666.4,321.6 L668.3,321.7 L670.3,321.9 L672.3,322.1 L674.3,322.2 L676.3,322.4 L678.3,322.5 L680.3,322.7 L682.3,322.8 L684.3,322.9 L686.3,323.0 L688.3,323.1 L690.3,323.2 L692.3,323.3 L694.3,323.4 L696.3,323.4 L698.3,323.5 L700.3,323.5 L702.3,323.5 L704.3,323.5 L706.3,323.5 L708.3,323.5 L710.3,323.5 L712.3,323.5 L714.3,323.5 L716.3,323.5 L718.2,323.5 L720.2,323.5 L722.2,323.5 L724.2,323.5 L726.2,323.6 L728.2,323.7 L730.2,323.7 L732.2,323.8 L734.2,323.8 L736.2,323.9 L738.2,324.0 L740.2,324.0 L742.2,324.0 L744.2,324.0 L746.2,324.0 L748.2,324.0 L750.2,324.0 L752.2,324.0 L754.2,323.9 L756.2,323.8 L758.2,323.7 L760.2,323.6 L762.2,323.5 L764.2,323.3 L766.2,323.2 L768.2,323.0 L770.2,322.9 L772.2,322.7 L774.1,322.5 L776.1,322.3 L778.1,322.1 L780.1,321.9 L782.1,321.7 L784.1,321.5 L786.1,321.3 L788.1,321.1 L790.1,320.9 L792.0,320.6 L794.0,320.4 L796.0,320.2 L798.0,319.9 L800.0,319.6 L801.9,319.4 L803.9,319.1 L805.9,318.8 L807.9,318.5 L809.9,318.2 L811.8,317.8 L813.8,317.5 L815.8,317.1 L817.7,316.8 L819.7,316.4 L821.6,316.0 L823.6,315.6 L825.6,315.2 L827.5,314.8 L829.5,314.4 L831.4,314.0 L833.4,313.6 L835.3,313.1 L837.3,312.7 L839.2,312.2 L841.1,311.7 L843.1,311.1 L845.0,310.5 L846.9,309.9 L848.7,309.3 L850.6,308.6 L852.5,307.9 L854.3,307.1 L856.1,306.3 L857.9,305.4 L859.7,304.6 L861.5,303.7 L863.3,302.8 L865.0,301.8 L866.8,300.8 L868.5,299.8 L870.1,298.7 L871.8,297.6 L873.4,296.4 L875.0,295.2 L876.6,294.0 L878.2,292.8 L879.8,291.6 L881.3,290.3 L882.9,289.0 L884.4,287.7 L885.9,286.4 L887.4,285.1 L888.8,283.7 L890.2,282.3 L891.6,280.9 L893.0,279.4 L894.3,278.0 L895.6,276.4 L896.8,274.9 L898.0,273.3 L899.3,271.7 L900.4,270.1 L901.6,268.5 L902.8,266.9 L904.0,265.2 L905.1,263.6 L906.3,262.0 L906.2,264.0 L906.1,266.0 L906.0,268.0 L905.9,270.0 L905.8,272.0 L905.6,274.0 L905.4,276.0 L905.2,277.9 L905.0,279.9 L904.8,281.9 L904.5,283.9 L904.2,285.8 L903.8,287.8 L903.4,289.8 L903.0,291.7 L902.6,293.7 L902.1,295.6 L901.6,297.6 L901.1,299.5 L900.6,301.4 L900.0,303.3 L899.4,305.2 L898.8,307.1 L898.1,309.0 L897.5,310.9 L896.8,312.8 L896.1,314.7 L895.4,316.5 L894.7,318.4 L893.9,320.2 L893.1,322.1 L892.3,323.9 L891.5,325.7 L890.6,327.5 L889.8,329.3 L888.9,331.1 L887.9,332.9 L887.0,334.6 L886.0,336.3 L885.0,338.1 L883.9,339.8 L882.9,341.4 L881.8,343.1 L880.6,344.7 L879.4,346.3 L878.2,347.9 L877.0,349.5 L875.7,351.0 L874.4,352.6 L873.1,354.0 L871.8,355.5 L870.4,357.0 L869.0,358.4 L867.5,359.8 L866.1,361.1 L864.6,362.5 L863.1,363.8 L861.6,365.1 L860.1,366.4 L858.6,367.7 L857.0,368.9 L855.4,370.2 L853.9,371.4 L852.3,372.6 L850.7,373.8 L849.0,374.9 L847.4,376.1 L845.7,377.2 L844.0,378.2 L842.3,379.3 L840.6,380.3 L838.9,381.3 L837.1,382.2 L835.3,383.1 L833.5,384.0 L831.7,384.8 L829.9,385.7 L828.1,386.5 L826.2,387.2 L824.4,388.0 L822.5,388.7 L820.7,389.5 L818.8,390.2 L817.0,390.9 L815.1,391.6 L813.2,392.3 L811.3,392.9 L809.4,393.6 L807.5,394.2 L805.6,394.9 L803.7,395.5 L801.8,396.1 L799.9,396.7 L798.0,397.3 L796.1,397.8 L794.2,398.4 L792.3,398.9 L790.3,399.5 L788.4,400.0 L786.5,400.5 L784.5,401.0 L782.6,401.5 L780.7,402.0 L778.7,402.4 L776.8,402.9 L774.8,403.4 L772.9,403.8 L770.9,404.2 L769.0,404.7 L767.0,405.1 L765.1,405.5 L763.1,405.9 L761.2,406.3 L759.2,406.7 L757.3,407.1 L755.3,407.5 L753.3,407.9 L751.4,408.3 L749.4,408.7 L747.5,409.1 L745.5,409.5 L743.5,409.9 L741.6,410.3 L739.6,410.6 L737.6,410.9 L735.7,411.2 L733.7,411.5 L731.7,411.8 L729.7,412.1 L727.8,412.3 L725.8,412.6 L723.8,412.9 L721.8,413.1 L719.8,413.4 L717.9,413.7 L715.9,414.0 L713.9,414.3 L711.9,414.6 L710.0,414.9 L708.0,415.3 L706.0,415.6 L704.1,415.9 L702.1,416.3 L700.1,416.7 L698.2,417.0 L696.2,417.4 L694.2,417.7 L692.3,418.1 L690.3,418.5 L688.3,418.8 L686.4,419.2 L684.4,419.6 L682.4,419.9 L680.5,420.3 L678.5,420.7 L676.6,421.1 L674.6,421.5 L672.6,421.9 L670.7,422.3 L668.7,422.8 L666.8,423.2 L664.8,423.6 L662.9,424.1 L660.9,424.5 L659.0,425.0 L657.1,425.5 L655.1,426.0 L653.2,426.5 L651.3,427.0 L649.3,427.5 L647.4,428.1 L645.5,428.6 L643.6,429.2 L641.7,429.8 L639.8,430.4 L637.9,431.1 L636.0,431.8 L634.1,432.5 L632.3,433.2 L630.4,433.9 L628.6,434.7 L626.7,435.4 L624.9,436.2 L623.1,437.0 L621.2,437.8 L619.4,438.6 L617.6,439.4 L615.7,440.2 L613.9,441.0 L612.0,441.7 L610.2,442.5 L608.3,443.2 L606.5,443.9 L604.6,444.6 L602.7,445.3 L600.8,446.0 L599.0,446.7 L597.1,447.3 L595.2,448.0 L593.3,448.6 L591.4,449.2 L589.5,449.9 L587.6,450.5 L585.7,451.2 L583.8,451.8 L581.9,452.5 L580.0,453.1 L578.2,453.8 L576.3,454.4 L574.4,455.1 L572.5,455.7 L570.6,456.3 L568.7,457.0 L566.8,457.6 L564.9,458.3 L563.0,458.9 L561.1,459.6 L559.2,460.2 L557.3,460.8 L555.5,461.5 L553.6,462.1 L551.7,462.8 L549.8,463.4 L547.9,464.0 L546.0,464.6 L544.1,465.3 L542.2,465.9 L540.3,466.5 L538.4,467.1 L536.5,467.7 L534.6,468.3 L532.7,469.0 L530.8,469.6 L528.9,470.2 L527.0,470.8 L525.1,471.5 L523.2,472.1 L521.3,472.8 L519.4,473.4 L517.5,474.1 L515.6,474.8 L513.8,475.4 L511.9,476.1 L510.0,476.8 L508.1,477.5 L506.2,478.1 L504.3,478.8 L502.5,479.5 L500.6,480.1 L498.7,480.8 L496.8,481.4 L494.9,482.1 L493.0,482.7 L491.1,483.3 L489.2,484.0 L487.3,484.6 L485.4,485.2 L483.5,485.9 L481.7,486.6 L479.8,487.3 L477.9,488.0 L476.1,488.7 L474.2,489.4 L472.4,490.2 L470.5,491.0 L468.7,491.8 L466.9,492.7 L465.1,493.5 L463.3,494.4 L461.5,495.3 L459.8,496.2 L458.0,497.2 L456.2,498.1 L454.4,499.0 L452.7,499.9 L450.9,500.9 L449.1,501.8 L447.3,502.7 L445.5,503.6 L443.8,504.4 L442.0,505.3 L440.2,506.2 L438.3,507.0 L436.5,507.9 L434.7,508.7 L432.9,509.5 L431.1,510.4 L429.3,511.2 L427.5,512.0 L425.6,512.8 L423.8,513.7 L422.0,514.5 L420.2,515.3 L418.3,516.1 L416.5,516.9 L414.7,517.7 L412.8,518.5 L411.0,519.2 L409.1,520.0 L407.3,520.7 L405.4,521.4 L403.5,522.1 L401.6,522.7 L399.7,523.3 L397.8,523.9 L395.9,524.4 L394.0,524.9 L392.0,525.4 L390.1,525.8 L388.1,526.2 L386.2,526.6 L384.2,527.0 L382.2,527.4 L380.3,527.7 L378.3,528.1 L376.3,528.4 L374.4,528.7 L372.4,529.1 L370.4,529.4 L368.4,529.7 L366.5,530.0 L364.5,530.4 L362.5,530.7 L360.6,531.1 L358.6,531.4 L356.6,531.8 L354.7,532.2 L352.7,532.6 L350.8,533.0 L348.8,533.5 L346.9,533.9 L344.9,534.4 L343.0,534.9 L341.1,535.4 L339.1,535.9 L337.2,536.4 L335.3,537.0 L333.4,537.5 L331.4,538.0 L329.5,538.6 L327.6,539.1 L325.7,539.7 L323.7,540.2 L321.8,540.8 L319.9,541.3 L318.0,541.9 L316.1,542.5 L314.2,543.0 L312.2,543.6 L310.3,544.2 L308.4,544.8 L306.5,545.3 L304.6,545.9 L302.7,546.5 L300.8,547.1 L298.9,547.6 L296.9,548.2 L295.0,548.8 L293.1,549.3 L291.2,549.9 L289.3,550.5 L287.3,551.0 L285.4,551.6 L283.5,552.1 L281.6,552.7 L279.7,553.3 L277.8,553.9 L275.9,554.6 L274.0,555.2 L272.1,555.9 L270.2,556.5 L268.4,557.2 L266.5,557.9 L264.6,558.7 L262.8,559.4 L260.9,560.2 L259.1,560.9 L257.2,561.7 L255.4,562.5 L253.6,563.3 L251.7,564.1 L249.9,564.9 L248.1,565.7 L246.3,566.5 L244.5,567.4 L242.7,568.2 L240.8,569.1 L239.0,569.9 L237.3,570.8 L235.5,571.7 L233.7,572.6 L231.9,573.5 L230.1,574.4 L228.4,575.4 L226.6,576.3 L224.8,577.3 L223.1,578.2 L221.3,579.2 L219.6,580.1 L217.8,581.1 L216.1,582.0 L214.3,583.0 L212.5,583.9 L210.8,584.9 L209.0,585.9 L207.3,586.8 L205.5,587.8 L203.8,588.8 L202.1,589.8 L200.3,590.8 L198.6,591.8 L196.9,592.8 L195.2,593.8 L193.4,594.8 L191.7,595.9 L190.1,596.9 L188.4,598.0 L186.7,599.2 L185.1,600.3 L183.5,601.5 L181.9,602.6 L180.3,603.8 L178.7,605.1 L177.2,606.4 L175.7,607.7" fill="none" stroke="#000080" stroke-width="4" stroke-linejoin="round" stroke-linecap="round"/>
<g stroke="#000" stroke-width="2.2" fill="none">
<line x1="648.5" y1="156" x2="648.5" y2="316.5"/>
<line x1="649.5" y1="156" x2="670.2" y2="272"/>
<line x1="650.5" y1="155" x2="684" y2="203"/>
<line x1="634.2" y1="470.8" x2="686" y2="520"/>
</g>
<polygon points="644.5,140.2 663.9,150 640.5,161.8" fill="#000"/>
<polygon points="694.5,508.5 697.9,530.7 675.1,524.2" fill="#000"/>
<text transform="translate(565.5,140.8) scale(1,1.05)" class="ann">rGO-Pani on 1<tspan class="sup" dy="-8.5">st</tspan><tspan dy="8.5">, 4</tspan><tspan class="sup" dy="-8.5">th</tspan><tspan dy="8.5"> and</tspan></text>
<text transform="translate(671.0,172.6) scale(1,1.05)" class="ann">7<tspan class="sup" dy="-8.5">th</tspan><tspan dy="8.5"> day</tspan></text>
<text transform="translate(622.5,553.8) scale(1,1.05)" class="ann">CHI<tspan font-weight="normal">@</tspan>rGO-Pani on 1<tspan class="sup" dy="-8.5">st</tspan><tspan dy="8.5">,</tspan></text>
<text transform="translate(677.0,587.6) scale(1,1.05)" class="ann">4<tspan class="sup" dy="-8.5">th</tspan><tspan dy="8.5"> and 7</tspan><tspan class="sup" dy="-8.5">th</tspan><tspan dy="8.5"> day</tspan></text>
<text transform="translate(407,722.5) scale(1,1.05)" class="ax">Potential/ V vs. Ag/AgCl</text>
<text transform="translate(38.6,496.5) rotate(-90) scale(1,1.04)" class="ax" style="font-size:30px">Current density/ Acm<tspan dx="1.5" dy="-16">-2</tspan></text>
<rect x="205" y="30" width="336" height="250" fill="#fff" stroke="none"/>
<line x1="201.5" y1="279.4" x2="205" y2="279.4" stroke="#000" stroke-width="1.6"/>
<line x1="198.8" y1="265.5" x2="205" y2="265.5" stroke="#000" stroke-width="1.6"/>
<text transform="translate(197.5,268.2) scale(1,0.85)" class="itl" text-anchor="end">0.0025</text>
<line x1="201.5" y1="251.7" x2="205" y2="251.7" stroke="#000" stroke-width="1.6"/>
<line x1="198.8" y1="237.8" x2="205" y2="237.8" stroke="#000" stroke-width="1.6"/>
<text transform="translate(197.5,240.5) scale(1,0.85)" class="itl" text-anchor="end">0.0030</text>
<line x1="201.5" y1="223.9" x2="205" y2="223.9" stroke="#000" stroke-width="1.6"/>
<line x1="198.8" y1="210.0" x2="205" y2="210.0" stroke="#000" stroke-width="1.6"/>
<text transform="translate(197.5,212.7) scale(1,0.85)" class="itl" text-anchor="end">0.0035</text>
<line x1="201.5" y1="196.1" x2="205" y2="196.1" stroke="#000" stroke-width="1.6"/>
<line x1="198.8" y1="182.2" x2="205" y2="182.2" stroke="#000" stroke-width="1.6"/>
<text transform="translate(197.5,184.9) scale(1,0.85)" class="itl" text-anchor="end">0.0040</text>
<line x1="201.5" y1="168.3" x2="205" y2="168.3" stroke="#000" stroke-width="1.6"/>
<line x1="198.8" y1="154.4" x2="205" y2="154.4" stroke="#000" stroke-width="1.6"/>
<text transform="translate(197.5,157.1) scale(1,0.85)" class="itl" text-anchor="end">0.0045</text>
<line x1="201.5" y1="140.5" x2="205" y2="140.5" stroke="#000" stroke-width="1.6"/>
<line x1="198.8" y1="126.6" x2="205" y2="126.6" stroke="#000" stroke-width="1.6"/>
<text transform="translate(197.5,129.3) scale(1,0.85)" class="itl" text-anchor="end">0.0050</text>
<line x1="201.5" y1="112.8" x2="205" y2="112.8" stroke="#000" stroke-width="1.6"/>
<line x1="198.8" y1="98.9" x2="205" y2="98.9" stroke="#000" stroke-width="1.6"/>
<text transform="translate(197.5,101.6) scale(1,0.85)" class="itl" text-anchor="end">0.0055</text>
<line x1="201.5" y1="85.0" x2="205" y2="85.0" stroke="#000" stroke-width="1.6"/>
<line x1="198.8" y1="71.1" x2="205" y2="71.1" stroke="#000" stroke-width="1.6"/>
<text transform="translate(197.5,73.8) scale(1,0.85)" class="itl" text-anchor="end">0.0060</text>
<line x1="201.5" y1="57.2" x2="205" y2="57.2" stroke="#000" stroke-width="1.6"/>
<line x1="198.8" y1="43.3" x2="205" y2="43.3" stroke="#000" stroke-width="1.6"/>
<text transform="translate(197.5,46.0) scale(1,0.85)" class="itl" text-anchor="end">0.0065</text>
<line x1="201.5" y1="29.4" x2="205" y2="29.4" stroke="#000" stroke-width="1.6"/>
<line x1="204.4" y1="280" x2="204.4" y2="283.0" stroke="#000" stroke-width="1.6"/>
<line x1="228.5" y1="280" x2="228.5" y2="285.0" stroke="#000" stroke-width="1.6"/>
<text transform="translate(228.5,296.5) scale(0.9,1)" class="itl" text-anchor="middle">1</text>
<line x1="252.6" y1="280" x2="252.6" y2="283.0" stroke="#000" stroke-width="1.6"/>
<line x1="276.6" y1="280" x2="276.6" y2="285.0" stroke="#000" stroke-width="1.6"/>
<text transform="translate(276.6,296.5) scale(0.9,1)" class="itl" text-anchor="middle">2</text>
<line x1="300.6" y1="280" x2="300.6" y2="283.0" stroke="#000" stroke-width="1.6"/>
<line x1="324.7" y1="280" x2="324.7" y2="285.0" stroke="#000" stroke-width="1.6"/>
<text transform="translate(324.7,296.5) scale(0.9,1)" class="itl" text-anchor="middle">3</text>
<line x1="348.8" y1="280" x2="348.8" y2="283.0" stroke="#000" stroke-width="1.6"/>
<line x1="372.8" y1="280" x2="372.8" y2="285.0" stroke="#000" stroke-width="1.6"/>
<text transform="translate(372.8,296.5) scale(0.9,1)" class="itl" text-anchor="middle">4</text>
<line x1="396.9" y1="280" x2="396.9" y2="283.0" stroke="#000" stroke-width="1.6"/>
<line x1="420.9" y1="280" x2="420.9" y2="285.0" stroke="#000" stroke-width="1.6"/>
<text transform="translate(420.9,296.5) scale(0.9,1)" class="itl" text-anchor="middle">5</text>
<line x1="445.0" y1="280" x2="445.0" y2="283.0" stroke="#000" stroke-width="1.6"/>
<line x1="469.0" y1="280" x2="469.0" y2="285.0" stroke="#000" stroke-width="1.6"/>
<text transform="translate(469.0,296.5) scale(0.9,1)" class="itl" text-anchor="middle">6</text>
<line x1="493.1" y1="280" x2="493.1" y2="283.0" stroke="#000" stroke-width="1.6"/>
<line x1="517.1" y1="280" x2="517.1" y2="285.0" stroke="#000" stroke-width="1.6"/>
<text transform="translate(517.1,296.5) scale(0.9,1)" class="itl" text-anchor="middle">7</text>
<line x1="541.2" y1="280" x2="541.2" y2="283.0" stroke="#000" stroke-width="1.6"/>
<rect x="205" y="30" width="336" height="250" fill="none" stroke="#000" stroke-width="2.2"/>
<path d="M228.5,210.0 C252.6,211.8 324.7,218.8 372.8,221.1 C420.9,223.4 493.1,223.4 517.1,223.9" fill="none" stroke="#ff8000" stroke-width="1.8"/>
<polyline points="228.5,54.4 372.8,165.5 517.1,254.4" fill="none" stroke="#17928f" stroke-width="1.8"/>
<rect x="225.7" y="207.2" width="5.6" height="5.6" fill="#ff7a00"/>
<rect x="370.0" y="218.3" width="5.6" height="5.6" fill="#ff7a00"/>
<rect x="514.3" y="221.1" width="5.6" height="5.6" fill="#ff7a00"/>
<circle cx="228.5" cy="54.4" r="2.9" fill="#0a8888"/>
<circle cx="372.8" cy="165.5" r="2.9" fill="#0a8888"/>
<circle cx="517.1" cy="254.4" r="2.9" fill="#0a8888"/>
<rect x="249" y="35.8" width="286" height="30.8" fill="#fff" stroke="#c0c0c0" stroke-width="1.5"/>
<line x1="261.7" y1="44.6" x2="289.1" y2="44.6" stroke="#ff8000" stroke-width="1.8"/><circle cx="275.7" cy="44.8" r="3" fill="#ff7a00"/>
<line x1="261.7" y1="59.4" x2="289.1" y2="59.4" stroke="#17928f" stroke-width="1.8"/><polygon points="275.7,56 279.1,59.4 275.7,62.8 272.3,59.4" fill="#0a8484"/>
<text x="292.3" y="48.6" class="ileg">Current response of CHI<tspan font-weight="normal">@</tspan>rGO-PAni/Frt/GOx</text>
<text x="292.3" y="63.2" class="ileg">Current response of rGO-PAni/Frt/GOx</text>
<text x="373" y="313" class="ileg" text-anchor="middle">Number of days</text>
<text transform="translate(163.2,224.6) rotate(-90)" class="ileg" style="font-size:11.95px">Current density/ Acm<tspan font-size="8.5" dx="1" dy="-6">-2</tspan></text>
</svg>
</body></html>
